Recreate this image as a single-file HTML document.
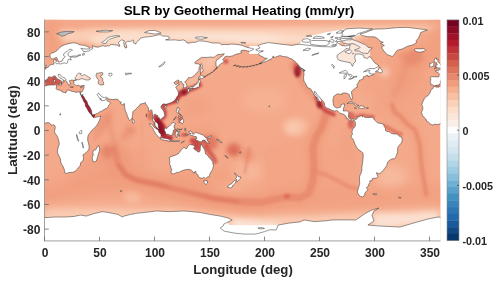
<!DOCTYPE html>
<html><head><meta charset="utf-8"><style>
html,body{margin:0;padding:0;background:#fff;}
svg{display:block;will-change:transform;}
text{font-family:"Liberation Sans",sans-serif;font-weight:bold;}
.tk{font-size:12px;fill:#262626;}
.cb{font-size:10.8px;fill:#262626;}
.lab{font-size:13.2px;fill:#262626;}
.ttl{font-size:13.45px;fill:#000;}
.ylab{font-size:13.6px;fill:#262626;}
</style></head><body>
<svg width="500" height="282" viewBox="0 0 500 282">
<defs>
<clipPath id="pc"><rect x="44.5" y="19.6" width="396" height="221.6"/></clipPath>
<filter id="b1" filterUnits="userSpaceOnUse" x="0" y="0" width="500" height="282"><feGaussianBlur stdDeviation="1.2"/></filter>
<filter id="b2" filterUnits="userSpaceOnUse" x="0" y="0" width="500" height="282"><feGaussianBlur stdDeviation="2.5"/></filter>
<filter id="b4" filterUnits="userSpaceOnUse" x="0" y="0" width="500" height="282"><feGaussianBlur stdDeviation="5"/></filter>
</defs>
<g clip-path="url(#pc)">
<rect x="44.5" y="19.6" width="396" height="221.6" fill="#f4a98a"/>
<polygon points="61.0,41.7 110.5,44.2 176.5,41.7 242.5,44.2 308.5,44.2 352.5,41.7 374.5,31.9 440.5,29.4 440.5,25.7 374.5,25.7 264.5,26.9 154.5,26.9 88.5,28.2 61.0,33.1" fill="#fbd0b8" fill-opacity="0.90" filter="url(#b2)"/>
<polygon points="99.5,40.5 176.5,40.5 231.5,43.0 264.5,45.4 303.0,43.0 319.5,36.8 264.5,33.1 187.5,31.9 110.5,33.1" fill="#fcdecb" fill-opacity="0.90" filter="url(#b2)"/>
<polygon points="110.5,38.0 165.5,36.8 220.5,39.3 259.0,41.7 286.5,40.5 264.5,35.6 187.5,34.3" fill="#fbe6da" fill-opacity="0.80" filter="url(#b2)"/>
<polygon points="94.0,44.2 121.5,46.7 154.5,41.7 154.5,33.1 110.5,31.9 88.5,36.8" fill="#fcdecb" fill-opacity="0.85" filter="url(#b2)"/>
<polygon points="44.5,204.5 110.5,205.7 176.5,208.2 242.5,213.1 308.5,213.1 363.5,208.2 440.5,204.5 440.5,229.1 44.5,229.1" fill="#f8bfa3" fill-opacity="0.90" filter="url(#b4)"/>
<polygon points="44.5,209.4 110.5,209.4 176.5,210.6 242.5,216.8 308.5,216.8 363.5,211.9 440.5,209.4 440.5,229.1 44.5,229.1" fill="#fbd0b8" fill-opacity="0.70" filter="url(#b2)"/>
<polygon points="233.7,219.3 264.5,221.7 281.0,223.0 275.5,229.1 231.5,229.1" fill="#fbe6da" fill-opacity="0.95" filter="url(#b2)"/>
<polygon points="374.5,213.1 407.5,214.3 435.0,211.9 440.5,219.3 374.5,229.1" fill="#fbe6da" fill-opacity="0.80" filter="url(#b2)"/>
<polygon points="336.0,47.9 356.9,47.9 356.9,68.8 336.0,68.8" fill="#fbe6da" fill-opacity="1.00"/>
<polygon points="74.2,72.5 90.7,72.5 90.7,80.6 74.2,80.6" fill="#fbe6da" fill-opacity="0.95"/>
<polygon points="77.5,79.9 90.7,79.9 90.7,77.5 77.5,77.5" fill="#fbd0b8" fill-opacity="0.80" filter="url(#b1)"/>
<polygon points="344.8,44.2 361.3,44.2 370.1,51.6 370.1,59.0 363.5,59.6 352.5,56.5 344.8,51.6" fill="#fbe6da" fill-opacity="1.00"/>
<polygon points="194.1,62.7 200.7,57.8 211.7,56.5 220.5,55.3 217.2,60.2 216.1,66.4 211.7,71.3 205.1,75.0 201.8,68.8 198.5,63.9" fill="#f8bfa3" fill-opacity="0.90" filter="url(#b2)"/>
<polygon points="202.9,59.0 211.7,57.1 218.3,55.9 215.0,60.2 207.3,61.5" fill="#fbd0b8" fill-opacity="0.70" filter="url(#b2)"/>
<polygon points="185.3,86.1 187.5,78.7 193.0,76.2 198.5,72.5 199.6,78.7 196.3,83.6 190.8,86.7" fill="#f8bfa3" fill-opacity="0.80" filter="url(#b2)"/>
<polygon points="175.4,87.3 177.6,81.2 183.1,82.4 183.1,87.3 178.7,91.0" fill="#f8bfa3" fill-opacity="0.60" filter="url(#b1)"/>
<ellipse cx="295.3" cy="126.8" rx="12.1" ry="9.8" fill="#f8bfa3" fill-opacity="0.90" transform="rotate(0 295.3 126.8)" filter="url(#b2)"/>
<ellipse cx="293.1" cy="128.0" rx="6.6" ry="4.9" fill="#fbd0b8" fill-opacity="0.60" transform="rotate(0 293.1 128.0)" filter="url(#b2)"/>
<ellipse cx="248.0" cy="171.2" rx="15.4" ry="9.8" fill="#f8bfa3" fill-opacity="0.60" transform="rotate(0 248.0 171.2)" filter="url(#b4)"/>
<ellipse cx="231.5" cy="192.2" rx="15.4" ry="7.4" fill="#f8bfa3" fill-opacity="0.60" transform="rotate(0 231.5 192.2)" filter="url(#b4)"/>
<ellipse cx="391.0" cy="177.4" rx="15.4" ry="12.3" fill="#f8bfa3" fill-opacity="0.75" transform="rotate(0 391.0 177.4)" filter="url(#b4)"/>
<ellipse cx="384.4" cy="72.5" rx="5.5" ry="4.9" fill="#fcdecb" fill-opacity="0.90" transform="rotate(0 384.4 72.5)" filter="url(#b2)"/>
<ellipse cx="132.5" cy="195.8" rx="8.8" ry="7.4" fill="#f8bfa3" fill-opacity="0.80" transform="rotate(0 132.5 195.8)" filter="url(#b2)"/>
<ellipse cx="160.0" cy="161.3" rx="13.2" ry="12.3" fill="#f8bfa3" fill-opacity="0.50" transform="rotate(0 160.0 161.3)" filter="url(#b4)"/>
<ellipse cx="264.5" cy="99.7" rx="22.0" ry="12.3" fill="#f8bfa3" fill-opacity="0.35" transform="rotate(0 264.5 99.7)" filter="url(#b4)"/>
<ellipse cx="363.5" cy="99.7" rx="11.0" ry="9.8" fill="#f8bfa3" fill-opacity="0.40" transform="rotate(0 363.5 99.7)" filter="url(#b4)"/>
<polyline points="39.0,194.6 55.5,192.2 72.0,188.5 94.0,184.8 110.5,179.8 127.0,177.4 143.5,182.3 165.5,187.2 187.5,192.2 209.5,198.3 237.0,202.0 264.5,203.2 292.0,199.5 319.5,199.5 347.0,200.8 363.5,200.8 380.0,199.5 402.0,197.1 424.0,195.8 446.0,194.6" fill="none" stroke="#f09d7c" stroke-opacity="0.55" stroke-width="22.0" stroke-linecap="round" stroke-linejoin="round" filter="url(#b4)"/>
<polygon points="66.5,179.8 110.5,167.5 121.5,155.2 110.5,142.8 88.5,149.0 77.5,167.5" fill="#f09d7c" fill-opacity="0.25" filter="url(#b4)"/>
<polygon points="88.5,149.0 165.5,149.0 209.5,173.7 209.5,194.6 110.5,192.2 66.5,186.0 77.5,167.5" fill="#f09d7c" fill-opacity="0.45" filter="url(#b4)"/>
<polygon points="105.0,142.8 127.0,149.0 132.5,173.7 116.0,179.8 101.7,161.3" fill="#e7886c" fill-opacity="0.35" filter="url(#b4)"/>
<polygon points="374.5,81.2 418.5,75.0 429.5,56.5 396.5,54.1 369.0,75.0" fill="#f09d7c" fill-opacity="0.35" filter="url(#b4)"/>
<polygon points="264.5,149.0 308.5,136.7 358.0,155.2 358.0,192.2 308.5,202.0 264.5,198.3" fill="#f09d7c" fill-opacity="0.35" filter="url(#b4)"/>
<polygon points="358.0,87.3 374.5,78.7 424.0,71.3 431.7,81.2 424.0,112.0 396.5,120.6 374.5,112.0 358.0,99.7" fill="#f09d7c" fill-opacity="0.40" filter="url(#b4)"/>
<polygon points="332.7,105.8 347.0,108.3 358.0,103.4 352.5,96.0 336.0,96.0" fill="#f09d7c" fill-opacity="0.40" filter="url(#b2)"/>
<polygon points="407.5,54.1 429.5,41.7 429.5,31.9 435.0,19.5 446.0,19.5 455.9,19.5 451.5,31.9 457.0,39.3 451.5,51.6 440.5,61.5 418.5,68.8 402.0,62.7" fill="#f09d7c" fill-opacity="0.70" filter="url(#b4)"/>
<ellipse cx="66.5" cy="34.3" rx="11.0" ry="4.9" fill="#fbd0b8" fill-opacity="0.70" transform="rotate(0 66.5 34.3)" filter="url(#b2)"/>
<polygon points="44.5,19.5 59.9,19.5 55.5,31.9 61.0,39.3 55.5,51.6 44.5,61.5" fill="#f09d7c" fill-opacity="0.80" filter="url(#b4)"/>
<polygon points="396.5,54.1 413.0,50.4 424.0,54.1 416.3,62.7 405.3,66.4" fill="#e7886c" fill-opacity="0.60" filter="url(#b2)"/>
<polyline points="392.1,104.6 394.3,112.0 399.8,115.7 407.5,124.3 415.2,129.9 419.6,144.1 421.8,168.7 424.6,184.8 426.2,194.6" fill="none" stroke="#f09d7c" stroke-opacity="0.60" stroke-width="10.0" stroke-linecap="round" stroke-linejoin="round" filter="url(#b2)"/>
<polyline points="392.1,104.6 394.3,112.0 399.8,115.7 407.5,124.3 415.2,129.9 419.6,144.1 421.8,168.7 424.6,184.8 426.2,194.6" fill="none" stroke="#e7886c" stroke-opacity="0.80" stroke-width="4.0" stroke-linecap="round" stroke-linejoin="round" filter="url(#b1)"/>
<polygon points="392.1,81.2 398.7,62.7 407.5,51.6 420.7,49.1 427.3,56.5 424.0,68.8 416.3,83.6 405.3,96.0 394.3,99.7" fill="#f09d7c" fill-opacity="0.75" filter="url(#b4)"/>
<polygon points="403.1,61.5 409.7,51.6 420.7,50.4 422.9,59.0 414.1,66.4" fill="#e7886c" fill-opacity="0.70" filter="url(#b2)"/>
<polyline points="413.0,54.1 407.5,62.7 403.1,75.0 398.7,84.9 394.3,94.7" fill="none" stroke="#e7886c" stroke-opacity="0.35" stroke-width="6.0" stroke-linecap="round" stroke-linejoin="round" filter="url(#b2)"/>
<polyline points="113.8,149.0 118.8,165.0 125.9,174.9 136.9,180.3 160.0,185.0 178.7,189.7 197.4,194.2 215.0,198.8 238.1,201.4 260.1,202.6 284.3,197.1 299.7,197.8 308.5,193.4 312.9,181.1 314.0,166.3 312.9,147.8 316.2,136.7 320.6,129.9 323.9,120.6 326.1,114.5" fill="none" stroke="#f09d7c" stroke-opacity="0.80" stroke-width="16.0" stroke-linecap="round" stroke-linejoin="round" filter="url(#b2)"/>
<polyline points="113.8,149.0 118.8,165.0 125.9,174.9 136.9,180.3 160.0,185.0 178.7,189.7 197.4,194.2 215.0,198.8 238.1,201.4 260.1,202.6 284.3,197.1 299.7,197.8 308.5,193.4 312.9,181.1 314.0,166.3 312.9,147.8 316.2,136.7 320.6,129.9 323.9,120.6 326.1,114.5" fill="none" stroke="#e7886c" stroke-opacity="0.85" stroke-width="7.0" stroke-linecap="round" stroke-linejoin="round" filter="url(#b1)"/>
<polyline points="118.8,165.0 125.9,174.9 136.9,180.3 160.0,185.0 178.7,189.7 197.4,194.2 215.0,198.8 238.1,201.4" fill="none" stroke="#de735b" stroke-opacity="0.60" stroke-width="3.0" stroke-linecap="round" stroke-linejoin="round" filter="url(#b1)"/>
<polyline points="314.0,171.2 326.1,174.9 338.2,181.1 350.3,187.2 355.8,188.5" fill="none" stroke="#e7886c" stroke-opacity="0.60" stroke-width="5.0" stroke-linecap="round" stroke-linejoin="round" filter="url(#b1)"/>
<ellipse cx="287.1" cy="196.3" rx="3.3" ry="2.5" fill="#d55e4c" fill-opacity="0.60" transform="rotate(0 287.1 196.3)" filter="url(#b1)"/>
<polyline points="107.2,115.7 110.5,130.5 114.9,142.8 117.1,152.7" fill="none" stroke="#e7886c" stroke-opacity="0.55" stroke-width="4.0" stroke-linecap="round" stroke-linejoin="round" filter="url(#b2)"/>
<polyline points="105.0,171.2 83.0,184.8 61.0,192.2 44.5,195.8" fill="none" stroke="#f09d7c" stroke-opacity="0.60" stroke-width="5.0" stroke-linecap="round" stroke-linejoin="round" filter="url(#b2)"/>
<polyline points="142.4,120.6 142.4,167.5" fill="none" stroke="#f09d7c" stroke-opacity="0.45" stroke-width="2.0" stroke-linecap="round" stroke-linejoin="round" filter="url(#b1)"/>
<polygon points="171.0,177.4 209.5,182.3 209.5,192.2 171.0,189.7" fill="#f09d7c" fill-opacity="0.50" filter="url(#b4)"/>
<polygon points="94.0,130.5 101.7,115.7 110.5,108.3 112.7,118.2 105.0,130.5 94.0,142.8" fill="#e7886c" fill-opacity="0.50" filter="url(#b2)"/>
<ellipse cx="107.2" cy="151.5" rx="5.5" ry="6.2" fill="#de735b" fill-opacity="0.60" transform="rotate(0 107.2 151.5)" filter="url(#b2)"/>
<polygon points="182.0,130.5 209.5,124.3 220.5,136.7 209.5,155.2 187.5,149.0" fill="#f09d7c" fill-opacity="0.60" filter="url(#b4)"/>
<ellipse cx="209.5" cy="142.8" rx="8.8" ry="7.4" fill="#d55e4c" fill-opacity="0.60" transform="rotate(0 209.5 142.8)" filter="url(#b2)"/>
<ellipse cx="233.7" cy="149.0" rx="6.6" ry="6.2" fill="#d55e4c" fill-opacity="0.60" transform="rotate(0 233.7 149.0)" filter="url(#b2)"/>
<ellipse cx="248.0" cy="155.2" rx="5.5" ry="7.4" fill="#e7886c" fill-opacity="0.60" transform="rotate(0 248.0 155.2)" filter="url(#b2)"/>
<polygon points="187.5,118.2 209.5,112.0 209.5,99.7 193.0,93.5 182.0,105.8" fill="#f09d7c" fill-opacity="0.50" filter="url(#b4)"/>
<polyline points="299.7,62.7 297.5,71.3 301.9,81.2 308.5,89.8 315.1,97.2 321.7,105.8" fill="none" stroke="#e7886c" stroke-opacity="0.60" stroke-width="6.0" stroke-linecap="round" stroke-linejoin="round" filter="url(#b2)"/>
<polyline points="206.2,146.5 208.4,150.8 211.2,154.5 213.9,158.2 215.0,161.3" fill="none" stroke="#ca4842" stroke-opacity="0.70" stroke-width="5.0" stroke-linecap="round" stroke-linejoin="round" filter="url(#b1)"/>
<polyline points="249.1,147.8 248.0,155.2 246.4,163.8 244.7,172.4" fill="none" stroke="#e7886c" stroke-opacity="0.60" stroke-width="3.0" stroke-linecap="round" stroke-linejoin="round" filter="url(#b1)"/>
<polygon points="209.5,165.0 229.3,167.5 233.7,186.0 209.5,186.0" fill="#f09d7c" fill-opacity="0.45" filter="url(#b4)"/>
<ellipse cx="233.7" cy="151.5" rx="6.6" ry="4.9" fill="#d55e4c" fill-opacity="0.50" transform="rotate(0 233.7 151.5)" filter="url(#b2)"/>
<ellipse cx="350.9" cy="124.3" rx="3.3" ry="4.9" fill="#ca4842" fill-opacity="0.70" transform="rotate(0 350.9 124.3)" filter="url(#b1)"/>
<polyline points="355.8,116.9 361.3,115.1 366.8,116.0 373.4,116.7" fill="none" stroke="#ca4842" stroke-opacity="0.60" stroke-width="3.5" stroke-linecap="round" stroke-linejoin="round" filter="url(#b1)"/>
<polyline points="383.3,125.6 387.7,127.4 392.1,129.9 396.5,132.3 400.9,134.2" fill="none" stroke="#d55e4c" stroke-opacity="0.60" stroke-width="4.0" stroke-linecap="round" stroke-linejoin="round" filter="url(#b1)"/>
<polygon points="341.5,124.3 352.5,130.5 354.7,142.8 358.0,155.2 350.3,161.3 339.3,149.0" fill="#f09d7c" fill-opacity="0.50" filter="url(#b4)"/>
<ellipse cx="130.3" cy="130.5" rx="5.5" ry="4.9" fill="#de735b" fill-opacity="0.45" transform="rotate(0 130.3 130.5)" filter="url(#b2)"/>
<ellipse cx="124.8" cy="136.7" rx="3.3" ry="3.7" fill="#de735b" fill-opacity="0.40" transform="rotate(0 124.8 136.7)" filter="url(#b2)"/>
<polygon points="154.5,113.9 158.9,116.9 161.1,120.0 164.4,124.3 166.6,128.0 165.5,133.0 168.8,135.4 172.1,135.4 173.2,139.1 169.9,140.4 163.3,139.1 161.1,136.7 157.8,133.0 155.6,128.0 153.9,121.9 153.9,115.7" fill="#b41c2d" fill-opacity="0.90" filter="url(#b1)"/>
<polygon points="156.7,118.2 160.0,120.6 162.2,124.3 163.3,129.3 165.5,134.2 161.1,135.4 158.9,131.7 156.7,126.8 155.6,121.9" fill="#890b24" fill-opacity="0.85" filter="url(#b1)"/>
<polyline points="162.2,105.2 163.9,108.3 165.3,112.0 164.9,115.7 162.8,118.8" fill="none" stroke="#bf3237" stroke-opacity="0.80" stroke-width="3.5" stroke-linecap="round" stroke-linejoin="round" filter="url(#b1)"/>
<polyline points="163.3,104.0 166.6,104.0 169.9,103.0 173.2,101.5 176.0,99.1 178.2,95.4 179.8,92.9" fill="none" stroke="#bf3237" stroke-opacity="0.80" stroke-width="4.0" stroke-linecap="round" stroke-linejoin="round" filter="url(#b1)"/>
<ellipse cx="150.7" cy="115.7" rx="3.3" ry="4.9" fill="#d55e4c" fill-opacity="0.70" transform="rotate(0 150.7 115.7)" filter="url(#b1)"/>
<polygon points="173.8,128.0 176.0,129.3 176.0,135.4 173.8,135.4" fill="#bf3237" fill-opacity="0.70" filter="url(#b1)"/>
<ellipse cx="184.2" cy="134.8" rx="3.3" ry="1.8" fill="#bf3237" fill-opacity="0.70" transform="rotate(0 184.2 134.8)" filter="url(#b1)"/>
<polygon points="190.8,137.9 196.3,138.5 200.7,141.6 200.2,151.5 194.1,150.2 193.0,145.3 189.7,141.6" fill="#bf3237" fill-opacity="0.80" filter="url(#b1)"/>
<polygon points="201.8,140.4 205.1,141.0 207.3,143.4 202.9,144.1 201.2,142.8" fill="#ca4842" fill-opacity="0.70" filter="url(#b1)"/>
<polygon points="177.6,115.7 180.9,116.9 183.1,120.6 179.8,123.1 177.6,119.4" fill="#ca4842" fill-opacity="0.60" filter="url(#b1)"/>
<polyline points="174.3,100.9 178.7,96.0 183.1,92.3 188.6,89.8 195.2,87.3 199.6,84.9" fill="none" stroke="#bf3237" stroke-opacity="0.80" stroke-width="5.0" stroke-linecap="round" stroke-linejoin="round" filter="url(#b1)"/>
<ellipse cx="184.2" cy="92.3" rx="3.3" ry="3.1" fill="#890b24" fill-opacity="0.80" transform="rotate(0 184.2 92.3)" filter="url(#b1)"/>
<polygon points="44.5,86.1 44.5,78.7 50.0,76.9 55.5,76.2 62.1,81.2 61.0,84.9 55.5,84.9 50.0,85.5" fill="#ca4842" fill-opacity="0.85" filter="url(#b1)"/>
<polygon points="433.9,86.7 433.9,84.9 440.5,78.7 440.5,86.1" fill="#ca4842" fill-opacity="0.85" filter="url(#b1)"/>
<polyline points="80.8,95.4 84.1,99.7 86.8,104.6 89.1,108.9 91.2,113.2 92.3,115.1" fill="none" stroke="#a01228" stroke-opacity="0.90" stroke-width="5.5" stroke-linecap="round" stroke-linejoin="round"/>
<ellipse cx="297.5" cy="71.3" rx="3.3" ry="6.2" fill="#890b24" fill-opacity="0.85" transform="rotate(0 297.5 71.3)" filter="url(#b1)"/>
<ellipse cx="296.4" cy="66.4" rx="4.4" ry="4.9" fill="#bf3237" fill-opacity="0.50" transform="rotate(0 296.4 66.4)" filter="url(#b2)"/>
<polyline points="316.2,97.2 319.5,104.6 323.9,109.5 328.3,112.0 333.8,114.5" fill="none" stroke="#bf3237" stroke-opacity="0.75" stroke-width="4.0" stroke-linecap="round" stroke-linejoin="round" filter="url(#b1)"/>
<ellipse cx="319.5" cy="104.6" rx="2.8" ry="3.7" fill="#890b24" fill-opacity="0.70" transform="rotate(0 319.5 104.6)" filter="url(#b1)"/>
<ellipse cx="350.3" cy="115.7" rx="4.4" ry="3.7" fill="#bf3237" fill-opacity="0.50" transform="rotate(0 350.3 115.7)" filter="url(#b1)"/>
<ellipse cx="226.0" cy="61.5" rx="2.2" ry="2.5" fill="#bf3237" fill-opacity="0.70" transform="rotate(0 226.0 61.5)" filter="url(#b1)"/>
<ellipse cx="99.5" cy="74.4" rx="3.3" ry="1.8" fill="#bf3237" fill-opacity="0.60" transform="rotate(0 99.5 74.4)" filter="url(#b1)"/>
<g fill="#fff" stroke="none">
<path d="M38.34,86.11 L37.57,85.50 L36.36,84.63 L34.71,84.88 L34.82,82.78 L34.05,81.92 L34.71,80.56 L34.82,78.71 L34.27,77.48 L35.70,76.62 L38.12,76.74 L40.32,76.93 L42.52,76.99 L43.18,75.51 L43.18,73.78 L42.08,72.43 L39.55,71.44 L39.33,70.82 L41.20,70.33 L42.74,70.58 L43.07,69.34 L44.72,69.59 L46.15,68.73 L46.26,67.74 L48.02,67.25 L48.90,66.51 L49.67,65.27 L50.77,64.66 L52.20,64.53 L53.85,64.16 L54.07,62.68 L53.41,61.45 L53.74,60.22 L56.05,59.36 L55.83,60.84 L56.49,61.08 L55.50,62.68 L56.60,63.92 L58.80,63.55 L60.45,64.04 L62.65,63.30 L64.85,62.93 L66.39,63.42 L67.71,62.68 L67.71,60.96 L68.26,59.60 L69.36,59.36 L71.34,59.97 L70.35,58.37 L70.35,57.51 L72.55,57.01 L75.30,57.14 L77.39,56.64 L76.18,55.90 L73.65,56.03 L69.80,56.64 L68.15,55.53 L67.93,53.44 L69.25,52.20 L71.45,50.60 L72.44,50.11 L71.45,49.37 L69.25,49.37 L67.93,50.85 L65.95,52.08 L63.97,53.44 L63.42,54.92 L63.75,55.78 L65.18,56.52 L64.52,57.38 L62.76,59.11 L62.43,60.71 L60.45,61.45 L58.58,62.19 L58.36,61.21 L57.59,59.36 L56.82,57.75 L56.05,57.01 L55.50,57.75 L53.30,58.86 L51.65,58.86 L50.66,57.75 L50.00,56.15 L50.00,54.30 L51.32,53.31 L53.85,52.45 L55.50,51.59 L57.04,50.60 L58.25,49.12 L59.90,47.52 L61.55,46.29 L63.20,45.42 L65.40,44.44 L67.60,43.94 L70.90,43.20 L72.88,42.83 L75.30,42.96 L78.05,43.82 L78.60,44.44 L80.80,45.05 L84.10,45.30 L87.40,46.53 L89.60,47.64 L89.82,48.88 L86.85,49.00 L83.00,48.75 L80.80,48.14 L82.45,49.99 L83.00,51.09 L85.20,51.71 L86.30,51.34 L89.05,50.97 L90.70,49.74 L92.35,48.88 L92.90,48.14 L92.68,46.66 L92.13,45.92 L94.00,46.04 L95.10,46.90 L97.85,47.15 L101.70,46.04 L103.35,45.67 L104.45,46.29 L107.20,46.04 L109.40,45.79 L111.05,44.44 L113.80,44.68 L116.00,45.05 L118.20,45.18 L118.75,46.29 L119.85,46.29 L119.30,44.19 L118.20,42.96 L119.85,41.11 L121.39,39.87 L124.25,40.74 L123.70,42.71 L124.25,46.04 L125.35,48.14 L127.00,47.27 L126.45,45.42 L125.68,43.57 L125.35,42.59 L127.55,41.35 L130.85,41.35 L133.05,39.87 L133.60,40.74 L133.05,42.34 L135.80,44.19 L136.35,42.34 L137.45,41.35 L139.65,39.50 L140.20,38.27 L143.50,37.29 L149.00,36.79 L152.30,36.18 L155.60,35.56 L158.90,34.70 L161.65,35.19 L162.75,36.18 L166.60,36.05 L169.35,37.04 L168.80,39.26 L165.50,39.87 L169.35,40.12 L174.30,39.87 L179.80,40.49 L183.10,39.87 L185.85,41.11 L186.95,42.96 L189.15,43.20 L191.90,42.34 L195.20,42.34 L197.95,41.23 L199.60,40.86 L205.10,41.35 L209.50,42.22 L212.25,43.08 L217.20,42.96 L219.95,43.33 L221.38,44.68 L224.90,44.56 L228.75,44.56 L231.50,44.07 L234.80,44.31 L238.65,44.68 L242.50,45.55 L245.80,46.90 L249.10,47.89 L251.30,48.26 L253.83,49.00 L252.40,49.99 L249.87,51.22 L247.23,50.85 L243.60,50.11 L240.85,50.85 L241.40,52.82 L239.20,53.44 L235.90,54.30 L232.60,55.90 L229.30,56.52 L227.10,56.15 L224.90,56.77 L223.80,58.37 L222.70,59.60 L224.13,61.45 L222.70,62.68 L221.05,63.67 L219.07,65.27 L216.87,67.62 L216.10,65.77 L215.88,62.07 L216.98,59.60 L218.85,58.74 L221.05,56.77 L222.70,55.90 L224.35,53.68 L220.50,54.42 L217.75,54.55 L215.55,56.15 L213.90,57.38 L210.60,57.01 L207.30,57.38 L204.00,57.38 L201.80,57.38 L200.15,58.37 L198.50,59.48 L196.30,60.96 L194.65,62.81 L195.75,63.92 L197.95,63.67 L199.60,64.53 L200.04,65.77 L199.05,67.62 L198.83,70.70 L196.85,72.80 L194.65,75.26 L192.45,76.86 L190.80,77.73 L189.15,77.48 L188.05,78.10 L187.17,79.95 L185.30,81.18 L184.75,82.17 L185.85,83.28 L186.84,85.50 L186.73,86.98 L185.30,87.47 L183.65,88.08 L183.43,86.73 L183.98,85.13 L183.43,84.02 L182.22,83.89 L182.00,82.41 L181.23,81.30 L179.25,82.04 L177.82,82.66 L178.26,81.80 L179.03,80.56 L177.60,80.07 L175.95,81.30 L174.30,82.17 L173.86,82.91 L175.18,84.26 L175.95,84.63 L177.38,83.89 L179.36,84.39 L177.60,85.50 L176.06,86.61 L175.73,87.71 L176.94,88.82 L177.60,90.80 L178.59,91.91 L178.15,92.65 L178.70,93.76 L178.15,95.36 L176.94,96.84 L176.06,98.44 L175.18,99.80 L173.86,101.03 L172.10,102.26 L170.12,103.00 L169.35,103.13 L167.70,103.74 L166.05,104.36 L165.72,105.47 L165.17,103.99 L163.85,103.87 L162.75,104.24 L161.76,105.35 L160.88,106.70 L161.10,107.69 L162.20,109.17 L163.63,111.02 L164.40,113.24 L164.73,115.09 L164.40,116.57 L162.86,117.55 L161.87,118.42 L160.55,119.40 L159.78,119.90 L159.78,118.42 L159.34,117.68 L157.80,116.94 L157.58,115.33 L155.49,114.84 L154.94,113.85 L154.39,114.47 L153.62,117.55 L153.95,119.16 L154.83,120.39 L155.16,121.75 L156.15,122.12 L157.03,122.86 L158.02,123.97 L158.35,125.57 L158.24,127.17 L159.23,128.77 L158.35,128.90 L157.25,128.03 L155.93,126.92 L155.05,125.32 L154.83,123.60 L154.50,122.36 L152.85,120.64 L152.63,119.40 L152.85,117.55 L152.96,115.46 L152.30,113.24 L151.97,110.40 L151.42,109.79 L150.32,110.16 L149.33,111.02 L148.23,110.77 L148.56,108.92 L148.12,107.32 L147.35,106.46 L146.58,105.22 L145.70,103.99 L145.48,102.63 L144.16,103.00 L142.95,103.62 L141.85,103.74 L140.20,104.11 L139.98,105.47 L138.22,106.46 L136.90,108.06 L135.03,110.03 L133.82,110.90 L132.72,111.76 L132.83,114.22 L132.28,116.20 L132.28,117.80 L131.40,119.03 L130.52,119.65 L129.75,120.51 L128.76,119.53 L128.10,117.55 L127.33,115.70 L126.56,113.24 L125.35,110.77 L124.80,108.31 L124.58,106.46 L124.58,104.61 L124.14,103.37 L123.92,104.24 L122.60,104.85 L121.50,104.36 L120.40,103.00 L121.50,102.39 L120.07,101.89 L119.52,101.15 L118.53,100.54 L117.87,99.31 L114.90,99.31 L112.15,99.55 L109.95,99.06 L107.75,98.81 L107.20,97.46 L106.32,97.09 L104.45,97.70 L102.80,97.21 L100.93,95.98 L99.83,94.37 L98.73,93.39 L97.85,93.51 L97.19,94.37 L97.96,95.98 L98.95,97.21 L99.61,98.07 L100.38,99.92 L100.82,98.32 L101.26,99.43 L101.26,100.54 L102.80,100.66 L104.45,100.54 L105.55,99.31 L106.21,98.32 L106.54,99.31 L106.54,100.29 L107.75,101.15 L109.18,101.52 L110.28,102.88 L109.73,104.24 L108.85,105.35 L108.08,106.09 L107.97,107.20 L106.76,108.31 L105.44,108.80 L103.90,109.54 L101.92,111.02 L99.50,112.00 L97.85,113.24 L95.65,114.10 L94.00,114.72 L92.35,114.84 L92.02,113.85 L91.58,112.25 L91.36,110.16 L90.48,108.55 L89.38,106.46 L88.06,104.85 L87.51,103.37 L86.85,101.28 L85.64,99.92 L84.76,98.44 L83.66,96.47 L82.78,95.48 L82.89,94.13 L82.23,95.98 L81.35,95.36 L80.36,93.63 L80.03,92.03 L82.12,91.91 L82.89,90.43 L83.33,89.19 L83.99,87.71 L83.99,86.24 L84.32,85.37 L83.55,85.37 L81.90,85.74 L80.25,85.99 L78.16,85.13 L76.73,85.87 L75.30,85.13 L74.53,84.26 L73.65,83.28 L73.98,81.80 L73.32,81.18 L74.75,80.56 L76.40,80.07 L76.62,79.70 L78.60,79.82 L80.80,78.84 L83.00,78.71 L84.65,79.58 L86.63,80.07 L88.83,79.95 L90.26,79.21 L90.26,77.97 L88.50,76.99 L86.63,75.75 L85.20,75.14 L84.76,74.52 L83.55,74.89 L82.45,75.63 L81.35,75.51 L80.36,74.52 L81.46,73.78 L79.70,73.17 L78.38,73.17 L77.28,74.40 L76.40,75.63 L75.96,76.62 L75.19,77.48 L75.19,78.71 L75.74,79.45 L76.40,79.82 L75.30,79.95 L73.87,80.44 L73.10,80.19 L71.78,80.07 L70.57,80.32 L69.80,80.81 L69.36,80.56 L69.58,81.67 L70.02,82.41 L70.90,83.40 L70.02,83.77 L69.80,84.51 L69.47,85.50 L69.03,85.50 L68.37,85.13 L68.26,84.26 L67.82,83.65 L67.71,83.03 L67.27,82.41 L66.61,81.67 L65.84,80.81 L65.84,79.33 L64.96,78.22 L63.75,77.48 L62.10,76.86 L61.22,76.00 L60.45,74.77 L59.46,74.28 L58.14,74.52 L58.03,75.63 L59.35,76.74 L60.45,78.22 L62.10,78.84 L62.32,79.21 L63.42,79.95 L64.85,81.06 L64.19,81.30 L63.20,80.56 L62.76,81.55 L63.31,82.41 L62.65,83.15 L61.77,83.77 L61.88,82.78 L62.10,81.80 L61.33,81.06 L60.56,80.44 L59.90,80.07 L58.80,79.58 L57.92,78.96 L56.71,78.22 L56.05,77.23 L55.50,76.25 L54.18,75.75 L52.86,76.49 L51.65,77.36 L50.00,76.99 L48.90,76.86 L47.91,77.48 L48.02,78.71 L46.92,79.45 L45.60,79.95 L45.05,80.56 L44.17,81.80 L44.72,82.66 L43.95,83.40 L43.62,84.14 L42.52,84.88 L42.08,85.25 L40.65,85.25 L39.55,85.37 Z"/><path d="M434.34,86.11 L433.57,85.50 L432.36,84.63 L430.71,84.88 L430.82,82.78 L430.05,81.92 L430.71,80.56 L430.82,78.71 L430.27,77.48 L431.70,76.62 L434.12,76.74 L436.32,76.93 L438.52,76.99 L439.18,75.51 L439.18,73.78 L438.08,72.43 L435.55,71.44 L435.33,70.82 L437.20,70.33 L438.74,70.58 L439.07,69.34 L440.72,69.59 L442.15,68.73 L442.26,67.74 L444.02,67.25 L444.90,66.51 L445.67,65.27 L446.77,64.66 L448.20,64.53 L449.85,64.16 L450.07,62.68 L449.41,61.45 L449.74,60.22 L452.05,59.36 L451.83,60.84 L452.49,61.08 L451.50,62.68 L452.60,63.92 L454.80,63.55 L456.45,64.04 L458.65,63.30 L460.85,62.93 L462.39,63.42 L463.71,62.68 L463.71,60.96 L464.26,59.60 L465.36,59.36 L467.34,59.97 L466.35,58.37 L466.35,57.51 L468.55,57.01 L471.30,57.14 L473.39,56.64 L472.18,55.90 L469.65,56.03 L465.80,56.64 L464.15,55.53 L463.93,53.44 L465.25,52.20 L467.45,50.60 L468.44,50.11 L467.45,49.37 L465.25,49.37 L463.93,50.85 L461.95,52.08 L459.97,53.44 L459.42,54.92 L459.75,55.78 L461.18,56.52 L460.52,57.38 L458.76,59.11 L458.43,60.71 L456.45,61.45 L454.58,62.19 L454.36,61.21 L453.59,59.36 L452.82,57.75 L452.05,57.01 L451.50,57.75 L449.30,58.86 L447.65,58.86 L446.66,57.75 L446.00,56.15 L446.00,54.30 L447.32,53.31 L449.85,52.45 L451.50,51.59 L453.04,50.60 L454.25,49.12 L455.90,47.52 L457.55,46.29 L459.20,45.42 L461.40,44.44 L463.60,43.94 L466.90,43.20 L468.88,42.83 L471.30,42.96 L474.05,43.82 L474.60,44.44 L476.80,45.05 L480.10,45.30 L483.40,46.53 L485.60,47.64 L485.82,48.88 L482.85,49.00 L479.00,48.75 L476.80,48.14 L478.45,49.99 L479.00,51.09 L481.20,51.71 L482.30,51.34 L485.05,50.97 L486.70,49.74 L488.35,48.88 L488.90,48.14 L488.68,46.66 L488.13,45.92 L490.00,46.04 L491.10,46.90 L493.85,47.15 L497.70,46.04 L499.35,45.67 L500.45,46.29 L503.20,46.04 L505.40,45.79 L507.05,44.44 L509.80,44.68 L512.00,45.05 L514.20,45.18 L514.75,46.29 L515.85,46.29 L515.30,44.19 L514.20,42.96 L515.85,41.11 L517.39,39.87 L520.25,40.74 L519.70,42.71 L520.25,46.04 L521.35,48.14 L523.00,47.27 L522.45,45.42 L521.68,43.57 L521.35,42.59 L523.55,41.35 L526.85,41.35 L529.05,39.87 L529.60,40.74 L529.05,42.34 L531.80,44.19 L532.35,42.34 L533.45,41.35 L535.65,39.50 L536.20,38.27 L539.50,37.29 L545.00,36.79 L548.30,36.18 L551.60,35.56 L554.90,34.70 L557.65,35.19 L558.75,36.18 L562.60,36.05 L565.35,37.04 L564.80,39.26 L561.50,39.87 L565.35,40.12 L570.30,39.87 L575.80,40.49 L579.10,39.87 L581.85,41.11 L582.95,42.96 L585.15,43.20 L587.90,42.34 L591.20,42.34 L593.95,41.23 L595.60,40.86 L601.10,41.35 L605.50,42.22 L608.25,43.08 L613.20,42.96 L615.95,43.33 L617.38,44.68 L620.90,44.56 L624.75,44.56 L627.50,44.07 L630.80,44.31 L634.65,44.68 L638.50,45.55 L641.80,46.90 L645.10,47.89 L647.30,48.26 L649.83,49.00 L648.40,49.99 L645.87,51.22 L643.23,50.85 L639.60,50.11 L636.85,50.85 L637.40,52.82 L635.20,53.44 L631.90,54.30 L628.60,55.90 L625.30,56.52 L623.10,56.15 L620.90,56.77 L619.80,58.37 L618.70,59.60 L620.13,61.45 L618.70,62.68 L617.05,63.67 L615.07,65.27 L612.87,67.62 L612.10,65.77 L611.88,62.07 L612.98,59.60 L614.85,58.74 L617.05,56.77 L618.70,55.90 L620.35,53.68 L616.50,54.42 L613.75,54.55 L611.55,56.15 L609.90,57.38 L606.60,57.01 L603.30,57.38 L600.00,57.38 L597.80,57.38 L596.15,58.37 L594.50,59.48 L592.30,60.96 L590.65,62.81 L591.75,63.92 L593.95,63.67 L595.60,64.53 L596.04,65.77 L595.05,67.62 L594.83,70.70 L592.85,72.80 L590.65,75.26 L588.45,76.86 L586.80,77.73 L585.15,77.48 L584.05,78.10 L583.17,79.95 L581.30,81.18 L580.75,82.17 L581.85,83.28 L582.84,85.50 L582.73,86.98 L581.30,87.47 L579.65,88.08 L579.43,86.73 L579.98,85.13 L579.43,84.02 L578.22,83.89 L578.00,82.41 L577.23,81.30 L575.25,82.04 L573.82,82.66 L574.26,81.80 L575.03,80.56 L573.60,80.07 L571.95,81.30 L570.30,82.17 L569.86,82.91 L571.18,84.26 L571.95,84.63 L573.38,83.89 L575.36,84.39 L573.60,85.50 L572.06,86.61 L571.73,87.71 L572.94,88.82 L573.60,90.80 L574.59,91.91 L574.15,92.65 L574.70,93.76 L574.15,95.36 L572.94,96.84 L572.06,98.44 L571.18,99.80 L569.86,101.03 L568.10,102.26 L566.12,103.00 L565.35,103.13 L563.70,103.74 L562.05,104.36 L561.72,105.47 L561.17,103.99 L559.85,103.87 L558.75,104.24 L557.76,105.35 L556.88,106.70 L557.10,107.69 L558.20,109.17 L559.63,111.02 L560.40,113.24 L560.73,115.09 L560.40,116.57 L558.86,117.55 L557.87,118.42 L556.55,119.40 L555.78,119.90 L555.78,118.42 L555.34,117.68 L553.80,116.94 L553.58,115.33 L551.49,114.84 L550.94,113.85 L550.39,114.47 L549.62,117.55 L549.95,119.16 L550.83,120.39 L551.16,121.75 L552.15,122.12 L553.03,122.86 L554.02,123.97 L554.35,125.57 L554.24,127.17 L555.23,128.77 L554.35,128.90 L553.25,128.03 L551.93,126.92 L551.05,125.32 L550.83,123.60 L550.50,122.36 L548.85,120.64 L548.63,119.40 L548.85,117.55 L548.96,115.46 L548.30,113.24 L547.97,110.40 L547.42,109.79 L546.32,110.16 L545.33,111.02 L544.23,110.77 L544.56,108.92 L544.12,107.32 L543.35,106.46 L542.58,105.22 L541.70,103.99 L541.48,102.63 L540.16,103.00 L538.95,103.62 L537.85,103.74 L536.20,104.11 L535.98,105.47 L534.22,106.46 L532.90,108.06 L531.03,110.03 L529.82,110.90 L528.72,111.76 L528.83,114.22 L528.28,116.20 L528.28,117.80 L527.40,119.03 L526.52,119.65 L525.75,120.51 L524.76,119.53 L524.10,117.55 L523.33,115.70 L522.56,113.24 L521.35,110.77 L520.80,108.31 L520.58,106.46 L520.58,104.61 L520.14,103.37 L519.92,104.24 L518.60,104.85 L517.50,104.36 L516.40,103.00 L517.50,102.39 L516.07,101.89 L515.52,101.15 L514.53,100.54 L513.87,99.31 L510.90,99.31 L508.15,99.55 L505.95,99.06 L503.75,98.81 L503.20,97.46 L502.32,97.09 L500.45,97.70 L498.80,97.21 L496.93,95.98 L495.83,94.37 L494.73,93.39 L493.85,93.51 L493.19,94.37 L493.96,95.98 L494.95,97.21 L495.61,98.07 L496.38,99.92 L496.82,98.32 L497.26,99.43 L497.26,100.54 L498.80,100.66 L500.45,100.54 L501.55,99.31 L502.21,98.32 L502.54,99.31 L502.54,100.29 L503.75,101.15 L505.18,101.52 L506.28,102.88 L505.73,104.24 L504.85,105.35 L504.08,106.09 L503.97,107.20 L502.76,108.31 L501.44,108.80 L499.90,109.54 L497.92,111.02 L495.50,112.00 L493.85,113.24 L491.65,114.10 L490.00,114.72 L488.35,114.84 L488.02,113.85 L487.58,112.25 L487.36,110.16 L486.48,108.55 L485.38,106.46 L484.06,104.85 L483.51,103.37 L482.85,101.28 L481.64,99.92 L480.76,98.44 L479.66,96.47 L478.78,95.48 L478.89,94.13 L478.23,95.98 L477.35,95.36 L476.36,93.63 L476.03,92.03 L478.12,91.91 L478.89,90.43 L479.33,89.19 L479.99,87.71 L479.99,86.24 L480.32,85.37 L479.55,85.37 L477.90,85.74 L476.25,85.99 L474.16,85.13 L472.73,85.87 L471.30,85.13 L470.53,84.26 L469.65,83.28 L469.98,81.80 L469.32,81.18 L470.75,80.56 L472.40,80.07 L472.62,79.70 L474.60,79.82 L476.80,78.84 L479.00,78.71 L480.65,79.58 L482.63,80.07 L484.83,79.95 L486.26,79.21 L486.26,77.97 L484.50,76.99 L482.63,75.75 L481.20,75.14 L480.76,74.52 L479.55,74.89 L478.45,75.63 L477.35,75.51 L476.36,74.52 L477.46,73.78 L475.70,73.17 L474.38,73.17 L473.28,74.40 L472.40,75.63 L471.96,76.62 L471.19,77.48 L471.19,78.71 L471.74,79.45 L472.40,79.82 L471.30,79.95 L469.87,80.44 L469.10,80.19 L467.78,80.07 L466.57,80.32 L465.80,80.81 L465.36,80.56 L465.58,81.67 L466.02,82.41 L466.90,83.40 L466.02,83.77 L465.80,84.51 L465.47,85.50 L465.03,85.50 L464.37,85.13 L464.26,84.26 L463.82,83.65 L463.71,83.03 L463.27,82.41 L462.61,81.67 L461.84,80.81 L461.84,79.33 L460.96,78.22 L459.75,77.48 L458.10,76.86 L457.22,76.00 L456.45,74.77 L455.46,74.28 L454.14,74.52 L454.03,75.63 L455.35,76.74 L456.45,78.22 L458.10,78.84 L458.32,79.21 L459.42,79.95 L460.85,81.06 L460.19,81.30 L459.20,80.56 L458.76,81.55 L459.31,82.41 L458.65,83.15 L457.77,83.77 L457.88,82.78 L458.10,81.80 L457.33,81.06 L456.56,80.44 L455.90,80.07 L454.80,79.58 L453.92,78.96 L452.71,78.22 L452.05,77.23 L451.50,76.25 L450.18,75.75 L448.86,76.49 L447.65,77.36 L446.00,76.99 L444.90,76.86 L443.91,77.48 L444.02,78.71 L442.92,79.45 L441.60,79.95 L441.05,80.56 L440.17,81.80 L440.72,82.66 L439.95,83.40 L439.62,84.14 L438.52,84.88 L438.08,85.25 L436.65,85.25 L435.55,85.37 Z"/><path d="M38.01,86.36 L36.91,88.58 L35.15,89.44 L33.94,93.02 L31.85,95.73 L30.20,96.59 L28.55,98.32 L27.12,101.15 L25.80,104.61 L26.57,106.46 L26.90,108.31 L26.35,110.77 L25.25,112.37 L26.02,113.85 L26.13,115.09 L27.45,116.32 L28.33,117.55 L29.87,119.03 L30.75,121.25 L32.40,122.12 L34.05,123.72 L36.25,125.07 L39.00,124.21 L42.30,124.58 L44.50,123.60 L46.15,122.86 L48.24,122.61 L50.00,123.35 L51.10,125.20 L52.75,124.95 L53.85,124.83 L54.95,125.81 L55.28,127.42 L54.84,129.88 L54.40,131.73 L55.50,133.95 L57.15,136.05 L57.92,137.90 L58.80,140.98 L59.35,144.06 L58.25,147.15 L57.48,150.23 L57.48,152.69 L58.80,155.78 L60.45,158.74 L61.00,163.17 L62.65,165.76 L63.75,168.11 L64.63,170.57 L64.74,172.67 L65.95,173.29 L66.50,173.41 L68.70,172.55 L72.00,172.42 L73.65,172.05 L75.85,170.57 L77.50,168.97 L78.60,167.24 L80.14,165.64 L80.69,162.56 L83.00,160.71 L83.55,158.24 L83.33,156.39 L82.78,154.91 L84.65,153.68 L87.40,151.46 L89.05,149.00 L89.05,145.91 L88.50,143.20 L87.84,140.98 L87.62,138.88 L87.95,136.42 L88.72,134.20 L90.15,132.72 L91.80,130.50 L94.00,128.28 L96.20,126.18 L97.85,123.72 L99.28,120.64 L100.38,117.55 L100.93,115.95 L98.95,116.57 L96.20,117.18 L93.45,117.68 L92.13,116.20 L91.58,114.96 L90.15,113.48 L88.50,111.39 L87.40,109.29 L86.85,107.94 L85.53,106.46 L85.09,103.37 L83.66,101.40 L82.78,99.06 L81.68,97.21 L80.36,93.63 L80.03,92.03 L78.60,91.66 L76.40,92.40 L74.20,91.78 L72.00,91.41 L69.80,90.43 L68.15,89.93 L66.61,90.80 L65.95,92.89 L64.30,92.52 L61.55,91.66 L61.22,90.55 L59.02,89.93 L56.82,89.56 L56.05,88.58 L56.60,86.73 L56.05,85.50 L56.60,84.76 L55.50,84.51 L53.85,85.00 L51.10,84.88 L47.80,85.13 L44.50,86.24 L42.30,87.22 L40.10,87.10 L38.67,86.24 Z"/><path d="M434.01,86.36 L432.91,88.58 L431.15,89.44 L429.94,93.02 L427.85,95.73 L426.20,96.59 L424.55,98.32 L423.12,101.15 L421.80,104.61 L422.57,106.46 L422.90,108.31 L422.35,110.77 L421.25,112.37 L422.02,113.85 L422.13,115.09 L423.45,116.32 L424.33,117.55 L425.87,119.03 L426.75,121.25 L428.40,122.12 L430.05,123.72 L432.25,125.07 L435.00,124.21 L438.30,124.58 L440.50,123.60 L442.15,122.86 L444.24,122.61 L446.00,123.35 L447.10,125.20 L448.75,124.95 L449.85,124.83 L450.95,125.81 L451.28,127.42 L450.84,129.88 L450.40,131.73 L451.50,133.95 L453.15,136.05 L453.92,137.90 L454.80,140.98 L455.35,144.06 L454.25,147.15 L453.48,150.23 L453.48,152.69 L454.80,155.78 L456.45,158.74 L457.00,163.17 L458.65,165.76 L459.75,168.11 L460.63,170.57 L460.74,172.67 L461.95,173.29 L462.50,173.41 L464.70,172.55 L468.00,172.42 L469.65,172.05 L471.85,170.57 L473.50,168.97 L474.60,167.24 L476.14,165.64 L476.69,162.56 L479.00,160.71 L479.55,158.24 L479.33,156.39 L478.78,154.91 L480.65,153.68 L483.40,151.46 L485.05,149.00 L485.05,145.91 L484.50,143.20 L483.84,140.98 L483.62,138.88 L483.95,136.42 L484.72,134.20 L486.15,132.72 L487.80,130.50 L490.00,128.28 L492.20,126.18 L493.85,123.72 L495.28,120.64 L496.38,117.55 L496.93,115.95 L494.95,116.57 L492.20,117.18 L489.45,117.68 L488.13,116.20 L487.58,114.96 L486.15,113.48 L484.50,111.39 L483.40,109.29 L482.85,107.94 L481.53,106.46 L481.09,103.37 L479.66,101.40 L478.78,99.06 L477.68,97.21 L476.36,93.63 L476.03,92.03 L474.60,91.66 L472.40,92.40 L470.20,91.78 L468.00,91.41 L465.80,90.43 L464.15,89.93 L462.61,90.80 L461.95,92.89 L460.30,92.52 L457.55,91.66 L457.22,90.55 L455.02,89.93 L452.82,89.56 L452.05,88.58 L452.60,86.73 L452.05,85.50 L452.60,84.76 L451.50,84.51 L449.85,85.00 L447.10,84.88 L443.80,85.13 L440.50,86.24 L438.30,87.22 L436.10,87.10 L434.67,86.24 Z"/><path d="M255.70,49.74 L260.10,47.89 L257.90,45.67 L261.20,44.19 L268.35,42.59 L273.30,43.20 L281.00,44.19 L285.40,44.68 L292.00,45.42 L298.60,44.19 L304.10,44.81 L308.50,45.42 L314.00,46.04 L321.70,46.66 L326.10,46.66 L332.70,46.90 L336.00,46.04 L337.10,42.34 L341.50,45.42 L345.90,46.04 L350.30,44.81 L349.20,49.12 L345.90,48.51 L343.70,50.97 L340.40,52.82 L337.10,55.29 L337.10,57.75 L338.75,60.22 L343.70,61.45 L350.30,62.68 L352.50,66.38 L353.60,63.30 L355.80,61.45 L354.70,57.75 L355.25,54.05 L360.20,54.05 L363.50,55.29 L364.05,57.75 L367.90,58.37 L369.55,56.15 L372.30,59.60 L374.50,62.68 L378.90,65.77 L377.25,67.00 L374.50,68.60 L369.55,68.60 L367.35,69.47 L363.50,71.93 L369.88,70.33 L369.00,71.93 L369.55,73.41 L372.85,74.15 L374.50,73.78 L373.40,74.77 L370.65,75.51 L368.12,76.86 L367.90,75.26 L366.80,75.51 L363.50,76.74 L362.84,77.97 L363.50,78.96 L361.85,79.45 L359.10,80.44 L359.10,81.80 L358.00,82.66 L356.90,84.88 L357.45,87.10 L355.80,87.84 L353.60,89.56 L351.40,91.66 L351.95,95.36 L352.50,97.83 L352.06,99.43 L351.18,99.31 L350.30,97.46 L349.53,95.98 L349.20,94.50 L347.55,93.51 L345.90,93.02 L343.70,92.89 L342.05,93.26 L342.27,94.50 L340.95,94.37 L339.30,94.00 L337.10,93.88 L336.00,94.74 L333.80,96.22 L333.25,98.44 L332.92,100.91 L333.25,103.37 L333.58,105.22 L334.57,106.70 L336.00,107.57 L336.55,108.06 L338.75,107.57 L340.40,107.32 L341.06,105.22 L341.17,104.61 L343.70,103.99 L344.80,103.99 L344.36,105.84 L343.70,107.69 L343.37,110.16 L343.15,111.02 L344.25,111.02 L347.00,110.77 L348.87,112.00 L348.65,114.47 L348.43,116.94 L349.75,118.66 L351.40,119.65 L353.05,118.66 L354.70,119.03 L355.36,119.77 L356.90,118.79 L357.45,117.55 L359.10,116.69 L360.75,115.95 L361.85,115.21 L362.40,116.94 L363.50,116.32 L365.15,117.55 L367.90,117.43 L370.10,117.43 L372.30,117.31 L373.40,118.17 L374.50,120.02 L376.70,121.87 L377.80,123.10 L380.00,123.23 L382.20,123.72 L383.85,125.20 L384.40,126.80 L385.50,128.28 L385.50,130.50 L387.15,131.73 L388.80,131.49 L391.55,133.58 L394.30,133.95 L396.50,133.95 L398.15,135.06 L399.80,136.54 L401.78,137.28 L402.22,139.75 L402.00,141.60 L400.90,143.45 L399.25,145.30 L398.15,146.53 L397.60,149.00 L397.60,152.08 L396.50,155.16 L395.40,157.63 L394.30,158.86 L392.10,158.86 L389.90,160.09 L387.70,161.94 L387.04,164.41 L386.60,165.76 L384.95,168.11 L383.30,170.20 L381.65,172.05 L380.00,173.41 L378.35,173.41 L376.26,172.67 L377.25,174.89 L377.80,176.74 L376.70,177.97 L372.30,178.59 L372.08,180.44 L369.55,181.05 L370.32,182.29 L369.00,183.52 L368.45,185.99 L366.25,187.83 L367.90,189.44 L365.70,192.15 L364.60,193.38 L365.15,194.99 L363.50,195.85 L362.40,197.08 L360.75,196.47 L358.55,194.62 L357.45,192.15 L358.00,189.07 L359.10,185.99 L359.65,183.52 L359.65,181.67 L359.43,178.59 L359.65,176.12 L360.75,173.66 L361.74,171.19 L361.85,167.49 L362.40,163.79 L362.95,159.48 L363.28,155.16 L362.95,153.06 L361.30,151.46 L358.00,149.36 L356.57,147.15 L355.25,144.68 L353.60,140.36 L352.50,138.51 L351.18,137.28 L351.18,135.80 L352.50,134.20 L351.95,131.73 L352.50,129.88 L353.05,128.65 L353.82,128.03 L355.25,126.18 L355.47,123.72 L355.25,121.87 L354.70,121.25 L353.60,119.53 L352.50,121.25 L351.40,120.64 L349.75,120.39 L348.10,118.79 L346.23,118.17 L346.23,116.94 L344.25,114.47 L342.05,113.85 L339.85,113.24 L338.20,111.39 L336.55,110.53 L334.90,111.14 L332.70,110.53 L330.50,109.54 L328.85,108.55 L326.65,107.94 L325.00,106.46 L324.45,105.22 L324.67,103.99 L323.90,102.14 L321.70,99.67 L320.05,97.83 L318.40,95.98 L316.75,94.13 L315.65,91.91 L314.22,91.29 L314.55,93.51 L316.20,95.36 L317.85,97.83 L318.95,100.29 L320.05,101.89 L319.17,101.52 L317.30,99.92 L316.97,97.83 L315.10,96.35 L314.55,95.36 L313.23,93.14 L312.02,91.04 L311.47,89.81 L310.15,88.58 L307.84,87.84 L306.41,85.37 L305.75,83.89 L304.32,81.80 L303.77,79.95 L303.55,77.48 L304.10,73.78 L303.33,70.82 L305.20,70.95 L304.65,70.08 L302.45,68.85 L300.25,67.86 L299.70,66.38 L297.50,63.92 L296.40,62.68 L294.20,60.84 L292.00,58.99 L289.80,58.37 L287.05,56.89 L283.20,56.52 L279.90,55.53 L277.15,56.52 L275.50,57.14 L273.52,57.51 L273.30,55.90 L272.20,57.75 L271.10,59.60 L268.90,59.85 L266.15,61.45 L263.40,62.32 L261.20,63.05 L259.55,63.30 L262.30,61.70 L265.60,59.60 L267.25,58.37 L264.50,58.00 L262.30,56.52 L259.55,55.53 L258.45,53.44 L259.55,52.57 L263.40,50.97 L261.20,50.85 L258.45,50.97 Z"/><path d="M374.50,29.15 L385.50,28.78 L396.50,27.67 L407.50,27.42 L418.50,28.78 L427.30,30.01 L420.70,32.48 L419.60,35.56 L418.50,38.02 L416.30,40.49 L416.30,42.96 L413.00,44.81 L407.50,46.29 L402.00,49.12 L398.70,49.74 L396.50,50.97 L395.40,52.82 L393.20,55.90 L392.10,56.52 L389.90,55.53 L387.15,54.67 L385.50,52.82 L383.85,50.97 L382.20,48.51 L381.65,46.66 L384.40,45.42 L380.55,43.57 L383.30,42.34 L380.00,41.11 L377.80,38.64 L374.50,36.79 L367.90,36.79 L362.40,35.56 L360.20,33.96 L365.70,32.48 L370.10,30.63 Z"/><path d="M169.35,157.63 L169.90,162.56 L169.35,163.17 L170.45,165.64 L171.00,168.11 L171.77,169.96 L171.00,171.81 L171.00,172.79 L172.65,173.66 L174.30,173.66 L176.50,172.42 L178.70,172.42 L180.90,171.19 L183.10,170.33 L186.40,169.46 L189.15,169.34 L191.35,170.20 L193.00,171.81 L193.88,173.41 L194.65,171.81 L195.75,171.19 L196.08,173.04 L196.85,174.27 L197.95,174.89 L198.50,176.74 L200.15,177.85 L202.35,178.34 L203.89,177.23 L205.43,178.71 L207.30,177.11 L209.39,176.74 L209.72,174.27 L210.82,172.30 L212.25,169.96 L212.80,168.72 L213.46,165.76 L212.91,163.79 L212.80,161.57 L211.15,160.09 L210.38,158.24 L208.95,157.63 L208.07,155.78 L205.65,153.93 L205.10,151.46 L204.44,149.00 L203.45,148.01 L202.35,145.91 L201.25,143.69 L200.48,145.91 L200.26,148.38 L200.15,150.84 L199.05,152.20 L197.95,151.83 L195.75,150.23 L194.10,149.00 L193.55,148.38 L194.65,146.53 L194.98,145.54 L193.55,145.30 L190.80,144.68 L189.70,144.43 L188.05,145.91 L186.95,148.38 L185.85,148.87 L184.75,147.76 L183.10,147.76 L181.45,149.61 L180.35,151.46 L179.03,152.69 L178.15,153.93 L175.40,155.16 L172.87,155.90 L170.45,157.01 Z"/><path d="M38.23,68.85 L39.88,68.36 L41.20,67.99 L42.85,67.99 L44.50,67.86 L46.04,67.37 L45.27,67.00 L46.26,66.38 L46.37,65.52 L44.94,65.15 L44.50,64.41 L43.84,63.30 L42.96,62.68 L42.63,61.95 L41.75,61.45 L41.64,60.84 L42.52,59.60 L40.65,59.36 L40.10,58.99 L41.09,58.25 L39.00,58.25 L38.45,59.60 L38.23,60.84 L39.00,62.07 L39.22,62.81 L40.98,62.81 L40.65,63.55 L41.31,64.16 L41.20,64.78 L39.44,64.78 L39.88,65.40 L39.99,66.14 L38.78,66.63 L40.10,66.88 L41.20,67.25 L39.88,67.37 L39.00,68.11 Z"/><path d="M434.23,68.85 L435.88,68.36 L437.20,67.99 L438.85,67.99 L440.50,67.86 L442.04,67.37 L441.27,67.00 L442.26,66.38 L442.37,65.52 L440.94,65.15 L440.50,64.41 L439.84,63.30 L438.96,62.68 L438.63,61.95 L437.75,61.45 L437.64,60.84 L438.52,59.60 L436.65,59.36 L436.10,58.99 L437.09,58.25 L435.00,58.25 L434.45,59.60 L434.23,60.84 L435.00,62.07 L435.22,62.81 L436.98,62.81 L436.65,63.55 L437.31,64.16 L437.20,64.78 L435.44,64.78 L435.88,65.40 L435.99,66.14 L434.78,66.63 L436.10,66.88 L437.20,67.25 L435.88,67.37 L435.00,68.11 Z"/><path d="M433.90,66.38 L433.68,64.53 L433.90,63.18 L432.47,62.32 L431.15,63.30 L429.50,63.67 L430.05,64.90 L429.17,66.51 L430.05,67.00 L431.70,66.63 L433.46,66.14 Z"/><path d="M416.30,51.59 L414.10,49.74 L415.75,48.63 L420.70,48.88 L424.00,48.63 L425.65,49.99 L424.55,51.09 L421.80,51.83 L419.60,52.33 L417.40,51.83 Z"/><path d="M98.73,145.30 L99.72,149.00 L99.28,151.46 L98.18,154.54 L97.19,158.24 L96.31,161.08 L94.55,161.94 L92.90,161.32 L92.13,157.63 L93.23,155.16 L92.90,152.08 L93.45,150.47 L95.65,149.86 L97.30,147.15 Z"/><path d="M203.67,180.68 L207.63,180.93 L207.30,183.27 L206.20,184.26 L205.10,184.14 L204.22,182.53 Z"/><path d="M234.47,172.92 L236.45,174.64 L237.55,175.50 L238.10,176.74 L240.85,176.98 L240.19,178.59 L238.98,179.82 L237.22,181.79 L236.56,181.42 L237.00,179.82 L235.68,178.83 L236.56,177.35 L236.23,175.50 L234.80,173.90 Z"/><path d="M234.47,180.44 L236.23,181.42 L235.13,183.27 L234.25,184.38 L232.82,185.37 L232.16,187.09 L230.40,187.96 L227.65,187.22 L227.98,185.99 L229.74,184.75 L232.05,183.40 L233.15,181.92 L233.81,180.93 Z"/><path d="M188.49,88.58 L189.70,88.70 L191.35,88.21 L193.11,87.84 L193.22,88.82 L194.98,88.21 L196.52,87.84 L197.18,87.22 L198.28,87.34 L199.38,86.48 L199.16,85.00 L199.60,83.28 L200.37,81.80 L200.15,80.56 L200.04,79.45 L198.83,79.70 L198.39,81.18 L198.17,82.41 L196.85,83.89 L195.53,85.00 L194.87,84.51 L194.10,86.36 L193.33,86.61 L191.35,86.73 L189.70,87.34 L188.60,87.96 Z"/><path d="M198.50,79.45 L199.82,78.96 L200.37,77.97 L202.13,78.71 L203.45,77.48 L204.66,77.11 L204.00,76.25 L202.35,76.00 L200.59,74.40 L200.26,75.88 L199.93,77.23 L198.83,77.11 L198.50,78.10 Z"/><path d="M187.28,89.44 L188.49,88.70 L189.59,89.81 L189.15,91.66 L188.27,92.28 L187.72,91.66 L187.50,90.06 Z"/><path d="M190.25,89.56 L191.35,88.33 L192.56,88.33 L192.67,88.82 L192.12,89.44 L190.80,90.06 Z"/><path d="M200.48,73.78 L200.70,71.32 L200.92,67.62 L200.37,64.78 L201.36,63.55 L202.13,65.77 L202.02,68.85 L203.45,70.08 L201.80,72.55 L201.25,73.04 Z"/><path d="M176.61,102.14 L177.60,99.43 L178.70,99.67 L178.04,102.14 L177.38,103.37 Z"/><path d="M163.96,106.83 L166.05,105.72 L166.60,106.33 L165.50,107.94 L164.07,107.69 Z"/><path d="M177.16,107.69 L178.92,107.69 L179.25,109.54 L178.37,110.90 L178.70,113.24 L181.01,114.96 L179.80,114.47 L178.15,113.48 L177.16,112.87 L176.28,111.39 L176.83,110.28 Z"/><path d="M178.70,121.87 L180.35,120.88 L182.44,118.42 L183.65,120.64 L183.32,122.73 L182.44,123.60 L180.90,122.49 Z"/><path d="M181.12,115.09 L182.77,116.94 L182.00,118.17 L181.23,116.94 Z"/><path d="M178.70,115.95 L180.02,117.18 L179.80,119.40 L178.70,117.55 Z"/><path d="M173.42,120.14 L176.06,116.69 L175.73,117.55 L174.08,120.02 Z"/><path d="M164.40,128.65 L165.06,128.03 L166.60,128.53 L168.80,126.55 L170.45,124.83 L171.55,123.97 L172.65,122.24 L173.75,122.49 L175.62,123.97 L174.30,124.95 L174.08,128.03 L175.40,129.27 L173.75,129.88 L172.87,132.35 L172.65,134.82 L170.56,135.43 L168.80,134.45 L167.15,134.20 L165.72,134.08 L165.50,132.10 L164.40,130.50 Z"/><path d="M149.33,123.60 L151.75,124.09 L153.18,126.18 L155.05,128.03 L156.15,128.65 L158.35,129.88 L158.68,131.73 L159.45,132.97 L161.10,134.45 L160.88,137.65 L159.45,137.65 L157.03,135.43 L155.60,133.58 L154.50,131.73 L153.40,129.88 L153.07,128.28 L151.75,127.05 L150.10,125.20 Z"/><path d="M160.22,138.88 L161.10,137.77 L163.63,138.27 L166.05,138.51 L168.25,139.01 L170.45,139.99 L170.34,141.23 L167.70,140.73 L165.50,140.49 L163.30,139.99 L161.43,139.62 Z"/><path d="M171.00,140.61 L173.20,140.61 L175.40,140.86 L178.70,140.61 L179.80,140.98 L178.70,141.47 L175.40,141.47 L173.20,141.60 L171.22,141.35 Z"/><path d="M180.90,143.08 L182.55,141.60 L184.53,140.86 L183.10,142.09 L181.45,143.20 Z"/><path d="M175.95,137.28 L176.94,137.28 L177.05,134.20 L177.60,133.83 L179.25,136.05 L180.02,136.30 L178.70,134.20 L178.15,132.72 L180.13,131.73 L178.70,131.49 L177.16,131.98 L176.83,129.88 L178.15,129.88 L179.80,129.39 L181.45,129.27 L182.22,128.65 L181.23,129.88 L177.49,128.90 L176.50,129.64 L176.28,131.12 L175.40,133.58 L175.18,134.82 Z"/><path d="M184.75,128.03 L185.85,128.65 L185.30,129.88 L186.18,130.13 L185.30,131.12 L184.75,129.88 Z"/><path d="M185.30,134.20 L188.38,134.45 L188.05,135.19 L185.52,134.94 Z"/><path d="M188.60,132.10 L190.25,130.99 L191.90,131.61 L193.00,134.57 L195.75,132.35 L199.60,133.71 L203.45,135.19 L205.10,137.28 L206.75,137.90 L207.08,140.12 L209.50,143.20 L207.30,142.95 L205.10,140.36 L202.90,139.99 L201.80,141.84 L199.60,141.72 L197.40,140.49 L196.30,140.86 L195.75,139.13 L196.85,138.51 L196.30,136.66 L193.55,136.05 L191.90,135.43 L190.58,135.43 L189.70,133.95 L191.35,133.34 L189.92,133.21 Z"/><path d="M207.52,137.40 L209.50,136.66 L211.15,135.68 L211.92,136.05 L210.60,137.77 L208.40,138.14 Z"/><path d="M132.39,118.54 L133.60,120.02 L134.59,121.87 L133.60,123.10 L132.50,122.98 L132.28,120.64 Z"/><path d="M347.00,103.50 L348.10,102.51 L350.30,101.89 L352.50,102.14 L355.25,103.62 L357.45,104.98 L358.88,105.59 L355.80,105.96 L355.03,104.98 L354.15,103.99 L351.95,103.37 L350.30,103.13 L348.65,103.37 Z"/><path d="M358.66,107.69 L360.42,105.96 L363.50,106.21 L365.26,107.57 L363.50,108.06 L361.85,108.80 L360.42,108.18 L358.66,107.94 Z"/><path d="M354.37,107.81 L355.80,107.69 L356.68,108.31 L355.25,108.55 Z"/><path d="M366.58,107.81 L368.34,107.81 L368.34,108.31 L366.58,108.31 Z"/><path d="M375.27,71.81 L378.90,69.47 L379.45,66.88 L381.65,69.84 L382.53,71.93 L381.54,72.92 L379.45,72.55 L378.35,71.69 Z"/><path d="M299.26,67.86 L302.45,68.48 L304.76,70.82 L303.33,70.58 L301.90,69.71 L300.25,68.85 Z"/><path d="M352.50,39.63 L356.90,41.11 L362.40,43.57 L365.70,44.81 L367.90,47.27 L372.30,48.14 L369.55,50.35 L368.45,52.82 L367.90,53.44 L365.70,53.44 L361.85,52.82 L359.10,50.97 L355.25,50.97 L354.70,49.74 L359.10,48.51 L360.20,47.27 L358.00,46.04 L354.70,44.19 L352.50,43.57 L348.10,44.19 L343.70,42.96 L341.50,41.11 L347.00,39.87 Z"/><path d="M310.15,42.34 L311.80,40.49 L317.30,40.49 L325.00,40.49 L328.30,41.11 L329.40,43.57 L326.10,45.55 L321.70,45.67 L315.10,45.05 L310.70,44.19 Z"/><path d="M303.00,41.97 L301.90,41.11 L303.00,39.26 L307.40,38.64 L310.70,39.87 L308.50,42.34 Z"/><path d="M341.50,31.86 L347.00,28.78 L358.00,28.16 L372.30,28.78 L365.70,31.24 L358.00,33.71 L354.70,36.18 L349.20,36.42 L341.50,36.18 L342.60,34.33 Z"/><path d="M352.50,38.52 L351.40,36.92 L342.60,36.67 L339.30,37.78 L341.50,38.52 Z"/><path d="M56.60,33.71 L61.00,32.11 L64.30,31.61 L68.70,31.37 L74.20,31.61 L72.00,32.72 L67.60,33.71 L64.85,35.56 L62.10,36.18 L59.90,34.94 Z"/><path d="M101.70,42.34 L105.55,40.12 L107.20,38.02 L110.50,36.55 L117.10,35.56 L119.85,36.18 L114.90,37.41 L109.40,39.26 L107.20,41.11 L106.10,43.45 L102.80,43.20 Z"/><path d="M144.60,32.48 L149.00,30.63 L154.50,30.38 L158.90,31.86 L161.10,33.09 L155.60,34.08 L150.10,33.34 Z"/><path d="M96.20,31.24 L105.00,30.26 L112.70,30.63 L108.30,31.86 L99.50,31.86 Z"/><path d="M195.20,37.41 L200.70,36.79 L207.30,37.66 L201.80,39.26 L196.30,38.64 Z"/><path d="M240.85,42.59 L244.15,42.34 L245.80,42.96 L242.50,43.20 Z"/><path d="M58.14,83.89 L59.13,83.40 L61.66,83.28 L61.11,85.25 L58.25,84.26 Z"/><path d="M53.74,82.41 L53.52,80.07 L54.62,79.70 L55.28,80.56 L55.06,82.29 Z"/><path d="M53.96,79.45 L53.96,78.22 L54.84,77.48 L54.95,78.71 Z"/><path d="M70.35,86.98 L73.43,86.98 L73.10,87.34 L71.45,87.22 L70.46,87.34 Z"/><path d="M80.03,87.59 L80.80,86.85 L82.56,86.48 L81.90,87.47 L80.80,87.84 Z"/><path d="M239.53,152.08 L240.96,151.83 L240.85,153.06 L239.64,152.82 Z"/><path d="M224.90,155.41 L228.20,158.00 L227.65,158.00 L225.12,156.15 Z"/><path d="M216.65,139.13 L219.40,140.36 L222.15,142.58 L221.05,142.71 L218.85,140.98 L216.65,139.75 Z"/><path d="M269.23,107.07 L270.00,106.09 L269.23,105.59 L268.68,106.21 Z"/><path d="M120.40,190.67 L122.05,190.92 L121.28,191.78 L120.40,191.53 Z"/><path d="M373.07,193.63 L376.70,193.75 L376.15,194.86 L373.40,194.62 Z"/><path d="M398.70,197.08 L401.12,197.70 L400.35,198.19 L398.70,197.70 Z"/><path d="M146.47,113.85 L146.80,115.70 L146.36,116.94 L146.14,115.09 Z"/><path d="M335.45,41.72 L337.65,39.26 L340.95,39.50 L340.95,41.35 Z"/><path d="M328.85,41.11 L331.60,39.26 L334.35,40.49 L333.25,42.59 Z"/><path d="M332.70,46.04 L336.00,44.81 L334.35,44.44 L331.60,45.18 Z"/><path d="M314.00,37.41 L316.20,36.18 L322.80,36.92 L324.45,38.02 L320.60,38.39 L312.90,38.27 Z"/><path d="M330.50,37.41 L333.25,36.18 L332.15,38.02 Z"/><path d="M334.90,38.02 L338.20,37.41 L337.65,38.39 Z"/><path d="M336.00,33.09 L340.40,30.38 L343.70,31.24 L341.50,33.09 Z"/><path d="M306.30,36.18 L310.70,34.94 L311.80,36.55 Z"/><path d="M344.80,51.59 L350.30,49.74 L351.95,51.59 L349.20,53.81 L345.90,52.45 Z"/><path d="M327.20,34.33 L330.50,33.09 L329.40,34.70 Z"/><path d="M352.50,53.68 L353.60,53.31 L353.05,54.05 Z"/><path d="M348.10,36.42 L354.70,35.31 L352.50,36.79 Z"/><path d="M233.48,65.64 L236.12,64.90 L235.90,65.52 Z"/><path d="M236.23,66.38 L238.87,65.64 L238.65,66.26 Z"/><path d="M238.98,67.00 L241.62,66.26 L241.40,66.88 Z"/><path d="M242.28,67.12 L244.92,66.38 L244.70,67.00 Z"/><path d="M245.58,67.00 L248.22,66.26 L248.00,66.88 Z"/><path d="M248.88,66.51 L251.52,65.77 L251.30,66.38 Z"/><path d="M252.18,65.77 L254.82,65.03 L254.60,65.64 Z"/><path d="M255.48,64.90 L258.12,64.16 L257.90,64.78 Z"/><path d="M258.78,63.92 L261.42,63.18 L261.20,63.79 Z"/><path d="M204.22,76.99 L205.98,76.00 L205.76,76.74 Z"/><path d="M206.42,75.51 L208.18,74.52 L207.96,75.26 Z"/><path d="M208.62,74.28 L210.38,73.29 L210.16,74.03 Z"/><path d="M210.82,72.80 L212.58,71.81 L212.36,72.55 Z"/><path d="M213.02,71.19 L214.78,70.21 L214.56,70.95 Z"/><path d="M214.67,69.59 L216.43,68.60 L216.21,69.34 Z"/><path d="M215.77,68.48 L217.53,67.49 L217.31,68.23 Z"/>
<path d="M42.30,217.67 L44.50,217.67 L54.40,217.06 L64.30,217.06 L74.20,216.44 L80.36,215.08 L86.30,216.07 L94.00,213.60 L102.36,211.63 L108.30,212.49 L118.20,214.47 L122.27,217.06 L124.25,216.07 L130.30,214.47 L138.00,213.11 L144.38,212.49 L156.26,211.01 L168.25,211.63 L184.20,211.01 L200.15,212.49 L210.16,214.47 L220.17,216.07 L228.20,218.04 L232.16,220.02 L227.10,222.36 L229.30,225.07 L242.50,225.19 L264.50,225.19 L278.14,225.07 L289.80,222.98 L299.70,221.99 L304.10,220.02 L314.00,221.62 L323.90,221.00 L332.04,220.02 L343.70,219.89 L355.80,220.02 L359.98,217.06 L366.03,212.99 L371.97,210.03 L378.90,208.06 L373.95,211.01 L371.97,215.08 L373.95,221.00 L367.90,225.07 L380.00,226.06 L399.80,227.04 L413.88,222.98 L427.85,219.03 L437.86,217.06 L442.70,217.55 L442.70,242.70 L42.30,242.70 Z"/>
<path d="M249.10,54.05 L261.20,54.05 L261.20,46.04 L249.10,46.04 Z"/>
<path d="M363.50,71.93 L367.90,68.85 L374.50,68.23 L377.25,67.00 L378.90,67.62 L375.60,71.93 L374.50,73.78 L370.10,74.40 L367.90,73.17 Z"/>
<path d="M54.40,63.92 L59.90,64.53 L68.70,63.30 L70.90,60.22 L75.30,57.14 L77.50,56.52 L73.10,55.29 L72.00,49.12 L66.50,49.12 L62.10,54.05 L64.30,57.75 L61.00,62.07 L55.50,61.45 Z"/>
<path d="M80.80,48.14 L89.60,47.89 L93.45,48.51 L89.60,51.59 L81.90,51.59 Z"/>
<path d="M96.75,92.89 L101.70,95.36 L106.98,97.21 L106.65,100.91 L100.60,100.91 L97.30,95.98 Z"/>
<path d="M299.70,44.19 L303.00,38.64 L309.60,36.18 L325.00,32.48 L339.30,30.01 L358.00,27.91 L372.30,28.78 L363.50,33.09 L354.70,36.79 L352.50,39.50 L341.50,41.11 L336.00,46.66 L319.50,47.89 L299.70,45.42 Z"/>
<path d="M314.22,91.29 L316.20,92.28 L319.50,97.21 L321.15,100.29 L320.05,101.89 L317.30,97.83 L314.55,93.51 Z"/>
<path d="M57.92,74.40 L59.68,74.15 L65.95,79.08 L64.85,81.06 L62.10,79.21 L59.35,76.74 L58.03,75.63 Z"/>
</g>
<path d="M96.75,73.17 L98.40,73.17 L101.15,72.55 L102.80,72.80 L102.80,74.65 L100.93,75.63 L100.60,77.11 L102.47,78.10 L102.80,79.70 L102.58,81.18 L103.68,82.04 L103.35,83.65 L103.90,84.51 L101.15,85.13 L99.50,84.51 L98.40,83.65 L98.18,81.80 L98.84,80.81 L98.40,79.70 L97.30,78.71 L96.75,77.48 L96.20,76.25 L95.98,75.01 Z" fill="#f6c2aa" stroke="none"/>
<path d="M56.60,33.71 L61.00,32.11 L64.30,31.61 L68.70,31.37 L74.20,31.61 L72.00,32.72 L67.60,33.71 L64.85,35.56 L62.10,36.18 L59.90,34.94 Z" fill="#bdbdbd" stroke="none"/>
<path d="M352.50,39.63 L356.90,41.11 L362.40,43.57 L365.70,44.81 L367.90,47.27 L372.30,48.14 L369.55,50.35 L368.45,52.82 L367.90,53.44 L365.70,53.44 L361.85,52.82 L359.10,50.97 L355.25,50.97 L354.70,49.74 L359.10,48.51 L360.20,47.27 L358.00,46.04 L354.70,44.19 L352.50,43.57 L348.10,44.19 L343.70,42.96 L341.50,41.11 L347.00,39.87 Z" fill="#fcece4" stroke="none"/>
<g fill="none" stroke="#1a1a1a" stroke-width="0.45" stroke-linejoin="round">
<path d="M38.34,86.11 L37.57,85.50 L36.36,84.63 L34.71,84.88 L34.82,82.78 L34.05,81.92 L34.71,80.56 L34.82,78.71 L34.27,77.48 L35.70,76.62 L38.12,76.74 L40.32,76.93 L42.52,76.99 L43.18,75.51 L43.18,73.78 L42.08,72.43 L39.55,71.44 L39.33,70.82 L41.20,70.33 L42.74,70.58 L43.07,69.34 L44.72,69.59 L46.15,68.73 L46.26,67.74 L48.02,67.25 L48.90,66.51 L49.67,65.27 L50.77,64.66 L52.20,64.53 L53.85,64.16 L54.07,62.68 L53.41,61.45 L53.74,60.22 L56.05,59.36 L55.83,60.84 L56.49,61.08 L55.50,62.68 L56.60,63.92 L58.80,63.55 L60.45,64.04 L62.65,63.30 L64.85,62.93 L66.39,63.42 L67.71,62.68 L67.71,60.96 L68.26,59.60 L69.36,59.36 L71.34,59.97 L70.35,58.37 L70.35,57.51 L72.55,57.01 L75.30,57.14 L77.39,56.64 L76.18,55.90 L73.65,56.03 L69.80,56.64 L68.15,55.53 L67.93,53.44 L69.25,52.20 L71.45,50.60 L72.44,50.11 L71.45,49.37 L69.25,49.37 L67.93,50.85 L65.95,52.08 L63.97,53.44 L63.42,54.92 L63.75,55.78 L65.18,56.52 L64.52,57.38 L62.76,59.11 L62.43,60.71 L60.45,61.45 L58.58,62.19 L58.36,61.21 L57.59,59.36 L56.82,57.75 L56.05,57.01 L55.50,57.75 L53.30,58.86 L51.65,58.86 L50.66,57.75 L50.00,56.15 L50.00,54.30 L51.32,53.31 L53.85,52.45 L55.50,51.59 L57.04,50.60 L58.25,49.12 L59.90,47.52 L61.55,46.29 L63.20,45.42 L65.40,44.44 L67.60,43.94 L70.90,43.20 L72.88,42.83 L75.30,42.96 L78.05,43.82 L78.60,44.44 L80.80,45.05 L84.10,45.30 L87.40,46.53 L89.60,47.64 L89.82,48.88 L86.85,49.00 L83.00,48.75 L80.80,48.14 L82.45,49.99 L83.00,51.09 L85.20,51.71 L86.30,51.34 L89.05,50.97 L90.70,49.74 L92.35,48.88 L92.90,48.14 L92.68,46.66 L92.13,45.92 L94.00,46.04 L95.10,46.90 L97.85,47.15 L101.70,46.04 L103.35,45.67 L104.45,46.29 L107.20,46.04 L109.40,45.79 L111.05,44.44 L113.80,44.68 L116.00,45.05 L118.20,45.18 L118.75,46.29 L119.85,46.29 L119.30,44.19 L118.20,42.96 L119.85,41.11 L121.39,39.87 L124.25,40.74 L123.70,42.71 L124.25,46.04 L125.35,48.14 L127.00,47.27 L126.45,45.42 L125.68,43.57 L125.35,42.59 L127.55,41.35 L130.85,41.35 L133.05,39.87 L133.60,40.74 L133.05,42.34 L135.80,44.19 L136.35,42.34 L137.45,41.35 L139.65,39.50 L140.20,38.27 L143.50,37.29 L149.00,36.79 L152.30,36.18 L155.60,35.56 L158.90,34.70 L161.65,35.19 L162.75,36.18 L166.60,36.05 L169.35,37.04 L168.80,39.26 L165.50,39.87 L169.35,40.12 L174.30,39.87 L179.80,40.49 L183.10,39.87 L185.85,41.11 L186.95,42.96 L189.15,43.20 L191.90,42.34 L195.20,42.34 L197.95,41.23 L199.60,40.86 L205.10,41.35 L209.50,42.22 L212.25,43.08 L217.20,42.96 L219.95,43.33 L221.38,44.68 L224.90,44.56 L228.75,44.56 L231.50,44.07 L234.80,44.31 L238.65,44.68 L242.50,45.55 L245.80,46.90 L249.10,47.89 L251.30,48.26 L253.83,49.00 L252.40,49.99 L249.87,51.22 L247.23,50.85 L243.60,50.11 L240.85,50.85 L241.40,52.82 L239.20,53.44 L235.90,54.30 L232.60,55.90 L229.30,56.52 L227.10,56.15 L224.90,56.77 L223.80,58.37 L222.70,59.60 L224.13,61.45 L222.70,62.68 L221.05,63.67 L219.07,65.27 L216.87,67.62 L216.10,65.77 L215.88,62.07 L216.98,59.60 L218.85,58.74 L221.05,56.77 L222.70,55.90 L224.35,53.68 L220.50,54.42 L217.75,54.55 L215.55,56.15 L213.90,57.38 L210.60,57.01 L207.30,57.38 L204.00,57.38 L201.80,57.38 L200.15,58.37 L198.50,59.48 L196.30,60.96 L194.65,62.81 L195.75,63.92 L197.95,63.67 L199.60,64.53 L200.04,65.77 L199.05,67.62 L198.83,70.70 L196.85,72.80 L194.65,75.26 L192.45,76.86 L190.80,77.73 L189.15,77.48 L188.05,78.10 L187.17,79.95 L185.30,81.18 L184.75,82.17 L185.85,83.28 L186.84,85.50 L186.73,86.98 L185.30,87.47 L183.65,88.08 L183.43,86.73 L183.98,85.13 L183.43,84.02 L182.22,83.89 L182.00,82.41 L181.23,81.30 L179.25,82.04 L177.82,82.66 L178.26,81.80 L179.03,80.56 L177.60,80.07 L175.95,81.30 L174.30,82.17 L173.86,82.91 L175.18,84.26 L175.95,84.63 L177.38,83.89 L179.36,84.39 L177.60,85.50 L176.06,86.61 L175.73,87.71 L176.94,88.82 L177.60,90.80 L178.59,91.91 L178.15,92.65 L178.70,93.76 L178.15,95.36 L176.94,96.84 L176.06,98.44 L175.18,99.80 L173.86,101.03 L172.10,102.26 L170.12,103.00 L169.35,103.13 L167.70,103.74 L166.05,104.36 L165.72,105.47 L165.17,103.99 L163.85,103.87 L162.75,104.24 L161.76,105.35 L160.88,106.70 L161.10,107.69 L162.20,109.17 L163.63,111.02 L164.40,113.24 L164.73,115.09 L164.40,116.57 L162.86,117.55 L161.87,118.42 L160.55,119.40 L159.78,119.90 L159.78,118.42 L159.34,117.68 L157.80,116.94 L157.58,115.33 L155.49,114.84 L154.94,113.85 L154.39,114.47 L153.62,117.55 L153.95,119.16 L154.83,120.39 L155.16,121.75 L156.15,122.12 L157.03,122.86 L158.02,123.97 L158.35,125.57 L158.24,127.17 L159.23,128.77 L158.35,128.90 L157.25,128.03 L155.93,126.92 L155.05,125.32 L154.83,123.60 L154.50,122.36 L152.85,120.64 L152.63,119.40 L152.85,117.55 L152.96,115.46 L152.30,113.24 L151.97,110.40 L151.42,109.79 L150.32,110.16 L149.33,111.02 L148.23,110.77 L148.56,108.92 L148.12,107.32 L147.35,106.46 L146.58,105.22 L145.70,103.99 L145.48,102.63 L144.16,103.00 L142.95,103.62 L141.85,103.74 L140.20,104.11 L139.98,105.47 L138.22,106.46 L136.90,108.06 L135.03,110.03 L133.82,110.90 L132.72,111.76 L132.83,114.22 L132.28,116.20 L132.28,117.80 L131.40,119.03 L130.52,119.65 L129.75,120.51 L128.76,119.53 L128.10,117.55 L127.33,115.70 L126.56,113.24 L125.35,110.77 L124.80,108.31 L124.58,106.46 L124.58,104.61 L124.14,103.37 L123.92,104.24 L122.60,104.85 L121.50,104.36 L120.40,103.00 L121.50,102.39 L120.07,101.89 L119.52,101.15 L118.53,100.54 L117.87,99.31 L114.90,99.31 L112.15,99.55 L109.95,99.06 L107.75,98.81 L107.20,97.46 L106.32,97.09 L104.45,97.70 L102.80,97.21 L100.93,95.98 L99.83,94.37 L98.73,93.39 L97.85,93.51 L97.19,94.37 L97.96,95.98 L98.95,97.21 L99.61,98.07 L100.38,99.92 L100.82,98.32 L101.26,99.43 L101.26,100.54 L102.80,100.66 L104.45,100.54 L105.55,99.31 L106.21,98.32 L106.54,99.31 L106.54,100.29 L107.75,101.15 L109.18,101.52 L110.28,102.88 L109.73,104.24 L108.85,105.35 L108.08,106.09 L107.97,107.20 L106.76,108.31 L105.44,108.80 L103.90,109.54 L101.92,111.02 L99.50,112.00 L97.85,113.24 L95.65,114.10 L94.00,114.72 L92.35,114.84 L92.02,113.85 L91.58,112.25 L91.36,110.16 L90.48,108.55 L89.38,106.46 L88.06,104.85 L87.51,103.37 L86.85,101.28 L85.64,99.92 L84.76,98.44 L83.66,96.47 L82.78,95.48 L82.89,94.13 L82.23,95.98 L81.35,95.36 L80.36,93.63 L80.03,92.03 L82.12,91.91 L82.89,90.43 L83.33,89.19 L83.99,87.71 L83.99,86.24 L84.32,85.37 L83.55,85.37 L81.90,85.74 L80.25,85.99 L78.16,85.13 L76.73,85.87 L75.30,85.13 L74.53,84.26 L73.65,83.28 L73.98,81.80 L73.32,81.18 L74.75,80.56 L76.40,80.07 L76.62,79.70 L78.60,79.82 L80.80,78.84 L83.00,78.71 L84.65,79.58 L86.63,80.07 L88.83,79.95 L90.26,79.21 L90.26,77.97 L88.50,76.99 L86.63,75.75 L85.20,75.14 L84.76,74.52 L83.55,74.89 L82.45,75.63 L81.35,75.51 L80.36,74.52 L81.46,73.78 L79.70,73.17 L78.38,73.17 L77.28,74.40 L76.40,75.63 L75.96,76.62 L75.19,77.48 L75.19,78.71 L75.74,79.45 L76.40,79.82 L75.30,79.95 L73.87,80.44 L73.10,80.19 L71.78,80.07 L70.57,80.32 L69.80,80.81 L69.36,80.56 L69.58,81.67 L70.02,82.41 L70.90,83.40 L70.02,83.77 L69.80,84.51 L69.47,85.50 L69.03,85.50 L68.37,85.13 L68.26,84.26 L67.82,83.65 L67.71,83.03 L67.27,82.41 L66.61,81.67 L65.84,80.81 L65.84,79.33 L64.96,78.22 L63.75,77.48 L62.10,76.86 L61.22,76.00 L60.45,74.77 L59.46,74.28 L58.14,74.52 L58.03,75.63 L59.35,76.74 L60.45,78.22 L62.10,78.84 L62.32,79.21 L63.42,79.95 L64.85,81.06 L64.19,81.30 L63.20,80.56 L62.76,81.55 L63.31,82.41 L62.65,83.15 L61.77,83.77 L61.88,82.78 L62.10,81.80 L61.33,81.06 L60.56,80.44 L59.90,80.07 L58.80,79.58 L57.92,78.96 L56.71,78.22 L56.05,77.23 L55.50,76.25 L54.18,75.75 L52.86,76.49 L51.65,77.36 L50.00,76.99 L48.90,76.86 L47.91,77.48 L48.02,78.71 L46.92,79.45 L45.60,79.95 L45.05,80.56 L44.17,81.80 L44.72,82.66 L43.95,83.40 L43.62,84.14 L42.52,84.88 L42.08,85.25 L40.65,85.25 L39.55,85.37 Z"/><path d="M434.34,86.11 L433.57,85.50 L432.36,84.63 L430.71,84.88 L430.82,82.78 L430.05,81.92 L430.71,80.56 L430.82,78.71 L430.27,77.48 L431.70,76.62 L434.12,76.74 L436.32,76.93 L438.52,76.99 L439.18,75.51 L439.18,73.78 L438.08,72.43 L435.55,71.44 L435.33,70.82 L437.20,70.33 L438.74,70.58 L439.07,69.34 L440.72,69.59 L442.15,68.73 L442.26,67.74 L444.02,67.25 L444.90,66.51 L445.67,65.27 L446.77,64.66 L448.20,64.53 L449.85,64.16 L450.07,62.68 L449.41,61.45 L449.74,60.22 L452.05,59.36 L451.83,60.84 L452.49,61.08 L451.50,62.68 L452.60,63.92 L454.80,63.55 L456.45,64.04 L458.65,63.30 L460.85,62.93 L462.39,63.42 L463.71,62.68 L463.71,60.96 L464.26,59.60 L465.36,59.36 L467.34,59.97 L466.35,58.37 L466.35,57.51 L468.55,57.01 L471.30,57.14 L473.39,56.64 L472.18,55.90 L469.65,56.03 L465.80,56.64 L464.15,55.53 L463.93,53.44 L465.25,52.20 L467.45,50.60 L468.44,50.11 L467.45,49.37 L465.25,49.37 L463.93,50.85 L461.95,52.08 L459.97,53.44 L459.42,54.92 L459.75,55.78 L461.18,56.52 L460.52,57.38 L458.76,59.11 L458.43,60.71 L456.45,61.45 L454.58,62.19 L454.36,61.21 L453.59,59.36 L452.82,57.75 L452.05,57.01 L451.50,57.75 L449.30,58.86 L447.65,58.86 L446.66,57.75 L446.00,56.15 L446.00,54.30 L447.32,53.31 L449.85,52.45 L451.50,51.59 L453.04,50.60 L454.25,49.12 L455.90,47.52 L457.55,46.29 L459.20,45.42 L461.40,44.44 L463.60,43.94 L466.90,43.20 L468.88,42.83 L471.30,42.96 L474.05,43.82 L474.60,44.44 L476.80,45.05 L480.10,45.30 L483.40,46.53 L485.60,47.64 L485.82,48.88 L482.85,49.00 L479.00,48.75 L476.80,48.14 L478.45,49.99 L479.00,51.09 L481.20,51.71 L482.30,51.34 L485.05,50.97 L486.70,49.74 L488.35,48.88 L488.90,48.14 L488.68,46.66 L488.13,45.92 L490.00,46.04 L491.10,46.90 L493.85,47.15 L497.70,46.04 L499.35,45.67 L500.45,46.29 L503.20,46.04 L505.40,45.79 L507.05,44.44 L509.80,44.68 L512.00,45.05 L514.20,45.18 L514.75,46.29 L515.85,46.29 L515.30,44.19 L514.20,42.96 L515.85,41.11 L517.39,39.87 L520.25,40.74 L519.70,42.71 L520.25,46.04 L521.35,48.14 L523.00,47.27 L522.45,45.42 L521.68,43.57 L521.35,42.59 L523.55,41.35 L526.85,41.35 L529.05,39.87 L529.60,40.74 L529.05,42.34 L531.80,44.19 L532.35,42.34 L533.45,41.35 L535.65,39.50 L536.20,38.27 L539.50,37.29 L545.00,36.79 L548.30,36.18 L551.60,35.56 L554.90,34.70 L557.65,35.19 L558.75,36.18 L562.60,36.05 L565.35,37.04 L564.80,39.26 L561.50,39.87 L565.35,40.12 L570.30,39.87 L575.80,40.49 L579.10,39.87 L581.85,41.11 L582.95,42.96 L585.15,43.20 L587.90,42.34 L591.20,42.34 L593.95,41.23 L595.60,40.86 L601.10,41.35 L605.50,42.22 L608.25,43.08 L613.20,42.96 L615.95,43.33 L617.38,44.68 L620.90,44.56 L624.75,44.56 L627.50,44.07 L630.80,44.31 L634.65,44.68 L638.50,45.55 L641.80,46.90 L645.10,47.89 L647.30,48.26 L649.83,49.00 L648.40,49.99 L645.87,51.22 L643.23,50.85 L639.60,50.11 L636.85,50.85 L637.40,52.82 L635.20,53.44 L631.90,54.30 L628.60,55.90 L625.30,56.52 L623.10,56.15 L620.90,56.77 L619.80,58.37 L618.70,59.60 L620.13,61.45 L618.70,62.68 L617.05,63.67 L615.07,65.27 L612.87,67.62 L612.10,65.77 L611.88,62.07 L612.98,59.60 L614.85,58.74 L617.05,56.77 L618.70,55.90 L620.35,53.68 L616.50,54.42 L613.75,54.55 L611.55,56.15 L609.90,57.38 L606.60,57.01 L603.30,57.38 L600.00,57.38 L597.80,57.38 L596.15,58.37 L594.50,59.48 L592.30,60.96 L590.65,62.81 L591.75,63.92 L593.95,63.67 L595.60,64.53 L596.04,65.77 L595.05,67.62 L594.83,70.70 L592.85,72.80 L590.65,75.26 L588.45,76.86 L586.80,77.73 L585.15,77.48 L584.05,78.10 L583.17,79.95 L581.30,81.18 L580.75,82.17 L581.85,83.28 L582.84,85.50 L582.73,86.98 L581.30,87.47 L579.65,88.08 L579.43,86.73 L579.98,85.13 L579.43,84.02 L578.22,83.89 L578.00,82.41 L577.23,81.30 L575.25,82.04 L573.82,82.66 L574.26,81.80 L575.03,80.56 L573.60,80.07 L571.95,81.30 L570.30,82.17 L569.86,82.91 L571.18,84.26 L571.95,84.63 L573.38,83.89 L575.36,84.39 L573.60,85.50 L572.06,86.61 L571.73,87.71 L572.94,88.82 L573.60,90.80 L574.59,91.91 L574.15,92.65 L574.70,93.76 L574.15,95.36 L572.94,96.84 L572.06,98.44 L571.18,99.80 L569.86,101.03 L568.10,102.26 L566.12,103.00 L565.35,103.13 L563.70,103.74 L562.05,104.36 L561.72,105.47 L561.17,103.99 L559.85,103.87 L558.75,104.24 L557.76,105.35 L556.88,106.70 L557.10,107.69 L558.20,109.17 L559.63,111.02 L560.40,113.24 L560.73,115.09 L560.40,116.57 L558.86,117.55 L557.87,118.42 L556.55,119.40 L555.78,119.90 L555.78,118.42 L555.34,117.68 L553.80,116.94 L553.58,115.33 L551.49,114.84 L550.94,113.85 L550.39,114.47 L549.62,117.55 L549.95,119.16 L550.83,120.39 L551.16,121.75 L552.15,122.12 L553.03,122.86 L554.02,123.97 L554.35,125.57 L554.24,127.17 L555.23,128.77 L554.35,128.90 L553.25,128.03 L551.93,126.92 L551.05,125.32 L550.83,123.60 L550.50,122.36 L548.85,120.64 L548.63,119.40 L548.85,117.55 L548.96,115.46 L548.30,113.24 L547.97,110.40 L547.42,109.79 L546.32,110.16 L545.33,111.02 L544.23,110.77 L544.56,108.92 L544.12,107.32 L543.35,106.46 L542.58,105.22 L541.70,103.99 L541.48,102.63 L540.16,103.00 L538.95,103.62 L537.85,103.74 L536.20,104.11 L535.98,105.47 L534.22,106.46 L532.90,108.06 L531.03,110.03 L529.82,110.90 L528.72,111.76 L528.83,114.22 L528.28,116.20 L528.28,117.80 L527.40,119.03 L526.52,119.65 L525.75,120.51 L524.76,119.53 L524.10,117.55 L523.33,115.70 L522.56,113.24 L521.35,110.77 L520.80,108.31 L520.58,106.46 L520.58,104.61 L520.14,103.37 L519.92,104.24 L518.60,104.85 L517.50,104.36 L516.40,103.00 L517.50,102.39 L516.07,101.89 L515.52,101.15 L514.53,100.54 L513.87,99.31 L510.90,99.31 L508.15,99.55 L505.95,99.06 L503.75,98.81 L503.20,97.46 L502.32,97.09 L500.45,97.70 L498.80,97.21 L496.93,95.98 L495.83,94.37 L494.73,93.39 L493.85,93.51 L493.19,94.37 L493.96,95.98 L494.95,97.21 L495.61,98.07 L496.38,99.92 L496.82,98.32 L497.26,99.43 L497.26,100.54 L498.80,100.66 L500.45,100.54 L501.55,99.31 L502.21,98.32 L502.54,99.31 L502.54,100.29 L503.75,101.15 L505.18,101.52 L506.28,102.88 L505.73,104.24 L504.85,105.35 L504.08,106.09 L503.97,107.20 L502.76,108.31 L501.44,108.80 L499.90,109.54 L497.92,111.02 L495.50,112.00 L493.85,113.24 L491.65,114.10 L490.00,114.72 L488.35,114.84 L488.02,113.85 L487.58,112.25 L487.36,110.16 L486.48,108.55 L485.38,106.46 L484.06,104.85 L483.51,103.37 L482.85,101.28 L481.64,99.92 L480.76,98.44 L479.66,96.47 L478.78,95.48 L478.89,94.13 L478.23,95.98 L477.35,95.36 L476.36,93.63 L476.03,92.03 L478.12,91.91 L478.89,90.43 L479.33,89.19 L479.99,87.71 L479.99,86.24 L480.32,85.37 L479.55,85.37 L477.90,85.74 L476.25,85.99 L474.16,85.13 L472.73,85.87 L471.30,85.13 L470.53,84.26 L469.65,83.28 L469.98,81.80 L469.32,81.18 L470.75,80.56 L472.40,80.07 L472.62,79.70 L474.60,79.82 L476.80,78.84 L479.00,78.71 L480.65,79.58 L482.63,80.07 L484.83,79.95 L486.26,79.21 L486.26,77.97 L484.50,76.99 L482.63,75.75 L481.20,75.14 L480.76,74.52 L479.55,74.89 L478.45,75.63 L477.35,75.51 L476.36,74.52 L477.46,73.78 L475.70,73.17 L474.38,73.17 L473.28,74.40 L472.40,75.63 L471.96,76.62 L471.19,77.48 L471.19,78.71 L471.74,79.45 L472.40,79.82 L471.30,79.95 L469.87,80.44 L469.10,80.19 L467.78,80.07 L466.57,80.32 L465.80,80.81 L465.36,80.56 L465.58,81.67 L466.02,82.41 L466.90,83.40 L466.02,83.77 L465.80,84.51 L465.47,85.50 L465.03,85.50 L464.37,85.13 L464.26,84.26 L463.82,83.65 L463.71,83.03 L463.27,82.41 L462.61,81.67 L461.84,80.81 L461.84,79.33 L460.96,78.22 L459.75,77.48 L458.10,76.86 L457.22,76.00 L456.45,74.77 L455.46,74.28 L454.14,74.52 L454.03,75.63 L455.35,76.74 L456.45,78.22 L458.10,78.84 L458.32,79.21 L459.42,79.95 L460.85,81.06 L460.19,81.30 L459.20,80.56 L458.76,81.55 L459.31,82.41 L458.65,83.15 L457.77,83.77 L457.88,82.78 L458.10,81.80 L457.33,81.06 L456.56,80.44 L455.90,80.07 L454.80,79.58 L453.92,78.96 L452.71,78.22 L452.05,77.23 L451.50,76.25 L450.18,75.75 L448.86,76.49 L447.65,77.36 L446.00,76.99 L444.90,76.86 L443.91,77.48 L444.02,78.71 L442.92,79.45 L441.60,79.95 L441.05,80.56 L440.17,81.80 L440.72,82.66 L439.95,83.40 L439.62,84.14 L438.52,84.88 L438.08,85.25 L436.65,85.25 L435.55,85.37 Z"/><path d="M38.01,86.36 L36.91,88.58 L35.15,89.44 L33.94,93.02 L31.85,95.73 L30.20,96.59 L28.55,98.32 L27.12,101.15 L25.80,104.61 L26.57,106.46 L26.90,108.31 L26.35,110.77 L25.25,112.37 L26.02,113.85 L26.13,115.09 L27.45,116.32 L28.33,117.55 L29.87,119.03 L30.75,121.25 L32.40,122.12 L34.05,123.72 L36.25,125.07 L39.00,124.21 L42.30,124.58 L44.50,123.60 L46.15,122.86 L48.24,122.61 L50.00,123.35 L51.10,125.20 L52.75,124.95 L53.85,124.83 L54.95,125.81 L55.28,127.42 L54.84,129.88 L54.40,131.73 L55.50,133.95 L57.15,136.05 L57.92,137.90 L58.80,140.98 L59.35,144.06 L58.25,147.15 L57.48,150.23 L57.48,152.69 L58.80,155.78 L60.45,158.74 L61.00,163.17 L62.65,165.76 L63.75,168.11 L64.63,170.57 L64.74,172.67 L65.95,173.29 L66.50,173.41 L68.70,172.55 L72.00,172.42 L73.65,172.05 L75.85,170.57 L77.50,168.97 L78.60,167.24 L80.14,165.64 L80.69,162.56 L83.00,160.71 L83.55,158.24 L83.33,156.39 L82.78,154.91 L84.65,153.68 L87.40,151.46 L89.05,149.00 L89.05,145.91 L88.50,143.20 L87.84,140.98 L87.62,138.88 L87.95,136.42 L88.72,134.20 L90.15,132.72 L91.80,130.50 L94.00,128.28 L96.20,126.18 L97.85,123.72 L99.28,120.64 L100.38,117.55 L100.93,115.95 L98.95,116.57 L96.20,117.18 L93.45,117.68 L92.13,116.20 L91.58,114.96 L90.15,113.48 L88.50,111.39 L87.40,109.29 L86.85,107.94 L85.53,106.46 L85.09,103.37 L83.66,101.40 L82.78,99.06 L81.68,97.21 L80.36,93.63 L80.03,92.03 L78.60,91.66 L76.40,92.40 L74.20,91.78 L72.00,91.41 L69.80,90.43 L68.15,89.93 L66.61,90.80 L65.95,92.89 L64.30,92.52 L61.55,91.66 L61.22,90.55 L59.02,89.93 L56.82,89.56 L56.05,88.58 L56.60,86.73 L56.05,85.50 L56.60,84.76 L55.50,84.51 L53.85,85.00 L51.10,84.88 L47.80,85.13 L44.50,86.24 L42.30,87.22 L40.10,87.10 L38.67,86.24 Z"/><path d="M434.01,86.36 L432.91,88.58 L431.15,89.44 L429.94,93.02 L427.85,95.73 L426.20,96.59 L424.55,98.32 L423.12,101.15 L421.80,104.61 L422.57,106.46 L422.90,108.31 L422.35,110.77 L421.25,112.37 L422.02,113.85 L422.13,115.09 L423.45,116.32 L424.33,117.55 L425.87,119.03 L426.75,121.25 L428.40,122.12 L430.05,123.72 L432.25,125.07 L435.00,124.21 L438.30,124.58 L440.50,123.60 L442.15,122.86 L444.24,122.61 L446.00,123.35 L447.10,125.20 L448.75,124.95 L449.85,124.83 L450.95,125.81 L451.28,127.42 L450.84,129.88 L450.40,131.73 L451.50,133.95 L453.15,136.05 L453.92,137.90 L454.80,140.98 L455.35,144.06 L454.25,147.15 L453.48,150.23 L453.48,152.69 L454.80,155.78 L456.45,158.74 L457.00,163.17 L458.65,165.76 L459.75,168.11 L460.63,170.57 L460.74,172.67 L461.95,173.29 L462.50,173.41 L464.70,172.55 L468.00,172.42 L469.65,172.05 L471.85,170.57 L473.50,168.97 L474.60,167.24 L476.14,165.64 L476.69,162.56 L479.00,160.71 L479.55,158.24 L479.33,156.39 L478.78,154.91 L480.65,153.68 L483.40,151.46 L485.05,149.00 L485.05,145.91 L484.50,143.20 L483.84,140.98 L483.62,138.88 L483.95,136.42 L484.72,134.20 L486.15,132.72 L487.80,130.50 L490.00,128.28 L492.20,126.18 L493.85,123.72 L495.28,120.64 L496.38,117.55 L496.93,115.95 L494.95,116.57 L492.20,117.18 L489.45,117.68 L488.13,116.20 L487.58,114.96 L486.15,113.48 L484.50,111.39 L483.40,109.29 L482.85,107.94 L481.53,106.46 L481.09,103.37 L479.66,101.40 L478.78,99.06 L477.68,97.21 L476.36,93.63 L476.03,92.03 L474.60,91.66 L472.40,92.40 L470.20,91.78 L468.00,91.41 L465.80,90.43 L464.15,89.93 L462.61,90.80 L461.95,92.89 L460.30,92.52 L457.55,91.66 L457.22,90.55 L455.02,89.93 L452.82,89.56 L452.05,88.58 L452.60,86.73 L452.05,85.50 L452.60,84.76 L451.50,84.51 L449.85,85.00 L447.10,84.88 L443.80,85.13 L440.50,86.24 L438.30,87.22 L436.10,87.10 L434.67,86.24 Z"/><path d="M255.70,49.74 L260.10,47.89 L257.90,45.67 L261.20,44.19 L268.35,42.59 L273.30,43.20 L281.00,44.19 L285.40,44.68 L292.00,45.42 L298.60,44.19 L304.10,44.81 L308.50,45.42 L314.00,46.04 L321.70,46.66 L326.10,46.66 L332.70,46.90 L336.00,46.04 L337.10,42.34 L341.50,45.42 L345.90,46.04 L350.30,44.81 L349.20,49.12 L345.90,48.51 L343.70,50.97 L340.40,52.82 L337.10,55.29 L337.10,57.75 L338.75,60.22 L343.70,61.45 L350.30,62.68 L352.50,66.38 L353.60,63.30 L355.80,61.45 L354.70,57.75 L355.25,54.05 L360.20,54.05 L363.50,55.29 L364.05,57.75 L367.90,58.37 L369.55,56.15 L372.30,59.60 L374.50,62.68 L378.90,65.77 L377.25,67.00 L374.50,68.60 L369.55,68.60 L367.35,69.47 L363.50,71.93 L369.88,70.33 L369.00,71.93 L369.55,73.41 L372.85,74.15 L374.50,73.78 L373.40,74.77 L370.65,75.51 L368.12,76.86 L367.90,75.26 L366.80,75.51 L363.50,76.74 L362.84,77.97 L363.50,78.96 L361.85,79.45 L359.10,80.44 L359.10,81.80 L358.00,82.66 L356.90,84.88 L357.45,87.10 L355.80,87.84 L353.60,89.56 L351.40,91.66 L351.95,95.36 L352.50,97.83 L352.06,99.43 L351.18,99.31 L350.30,97.46 L349.53,95.98 L349.20,94.50 L347.55,93.51 L345.90,93.02 L343.70,92.89 L342.05,93.26 L342.27,94.50 L340.95,94.37 L339.30,94.00 L337.10,93.88 L336.00,94.74 L333.80,96.22 L333.25,98.44 L332.92,100.91 L333.25,103.37 L333.58,105.22 L334.57,106.70 L336.00,107.57 L336.55,108.06 L338.75,107.57 L340.40,107.32 L341.06,105.22 L341.17,104.61 L343.70,103.99 L344.80,103.99 L344.36,105.84 L343.70,107.69 L343.37,110.16 L343.15,111.02 L344.25,111.02 L347.00,110.77 L348.87,112.00 L348.65,114.47 L348.43,116.94 L349.75,118.66 L351.40,119.65 L353.05,118.66 L354.70,119.03 L355.36,119.77 L356.90,118.79 L357.45,117.55 L359.10,116.69 L360.75,115.95 L361.85,115.21 L362.40,116.94 L363.50,116.32 L365.15,117.55 L367.90,117.43 L370.10,117.43 L372.30,117.31 L373.40,118.17 L374.50,120.02 L376.70,121.87 L377.80,123.10 L380.00,123.23 L382.20,123.72 L383.85,125.20 L384.40,126.80 L385.50,128.28 L385.50,130.50 L387.15,131.73 L388.80,131.49 L391.55,133.58 L394.30,133.95 L396.50,133.95 L398.15,135.06 L399.80,136.54 L401.78,137.28 L402.22,139.75 L402.00,141.60 L400.90,143.45 L399.25,145.30 L398.15,146.53 L397.60,149.00 L397.60,152.08 L396.50,155.16 L395.40,157.63 L394.30,158.86 L392.10,158.86 L389.90,160.09 L387.70,161.94 L387.04,164.41 L386.60,165.76 L384.95,168.11 L383.30,170.20 L381.65,172.05 L380.00,173.41 L378.35,173.41 L376.26,172.67 L377.25,174.89 L377.80,176.74 L376.70,177.97 L372.30,178.59 L372.08,180.44 L369.55,181.05 L370.32,182.29 L369.00,183.52 L368.45,185.99 L366.25,187.83 L367.90,189.44 L365.70,192.15 L364.60,193.38 L365.15,194.99 L363.50,195.85 L362.40,197.08 L360.75,196.47 L358.55,194.62 L357.45,192.15 L358.00,189.07 L359.10,185.99 L359.65,183.52 L359.65,181.67 L359.43,178.59 L359.65,176.12 L360.75,173.66 L361.74,171.19 L361.85,167.49 L362.40,163.79 L362.95,159.48 L363.28,155.16 L362.95,153.06 L361.30,151.46 L358.00,149.36 L356.57,147.15 L355.25,144.68 L353.60,140.36 L352.50,138.51 L351.18,137.28 L351.18,135.80 L352.50,134.20 L351.95,131.73 L352.50,129.88 L353.05,128.65 L353.82,128.03 L355.25,126.18 L355.47,123.72 L355.25,121.87 L354.70,121.25 L353.60,119.53 L352.50,121.25 L351.40,120.64 L349.75,120.39 L348.10,118.79 L346.23,118.17 L346.23,116.94 L344.25,114.47 L342.05,113.85 L339.85,113.24 L338.20,111.39 L336.55,110.53 L334.90,111.14 L332.70,110.53 L330.50,109.54 L328.85,108.55 L326.65,107.94 L325.00,106.46 L324.45,105.22 L324.67,103.99 L323.90,102.14 L321.70,99.67 L320.05,97.83 L318.40,95.98 L316.75,94.13 L315.65,91.91 L314.22,91.29 L314.55,93.51 L316.20,95.36 L317.85,97.83 L318.95,100.29 L320.05,101.89 L319.17,101.52 L317.30,99.92 L316.97,97.83 L315.10,96.35 L314.55,95.36 L313.23,93.14 L312.02,91.04 L311.47,89.81 L310.15,88.58 L307.84,87.84 L306.41,85.37 L305.75,83.89 L304.32,81.80 L303.77,79.95 L303.55,77.48 L304.10,73.78 L303.33,70.82 L305.20,70.95 L304.65,70.08 L302.45,68.85 L300.25,67.86 L299.70,66.38 L297.50,63.92 L296.40,62.68 L294.20,60.84 L292.00,58.99 L289.80,58.37 L287.05,56.89 L283.20,56.52 L279.90,55.53 L277.15,56.52 L275.50,57.14 L273.52,57.51 L273.30,55.90 L272.20,57.75 L271.10,59.60 L268.90,59.85 L266.15,61.45 L263.40,62.32 L261.20,63.05 L259.55,63.30 L262.30,61.70 L265.60,59.60 L267.25,58.37 L264.50,58.00 L262.30,56.52 L259.55,55.53 L258.45,53.44 L259.55,52.57 L263.40,50.97 L261.20,50.85 L258.45,50.97 Z"/><path d="M374.50,29.15 L385.50,28.78 L396.50,27.67 L407.50,27.42 L418.50,28.78 L427.30,30.01 L420.70,32.48 L419.60,35.56 L418.50,38.02 L416.30,40.49 L416.30,42.96 L413.00,44.81 L407.50,46.29 L402.00,49.12 L398.70,49.74 L396.50,50.97 L395.40,52.82 L393.20,55.90 L392.10,56.52 L389.90,55.53 L387.15,54.67 L385.50,52.82 L383.85,50.97 L382.20,48.51 L381.65,46.66 L384.40,45.42 L380.55,43.57 L383.30,42.34 L380.00,41.11 L377.80,38.64 L374.50,36.79 L367.90,36.79 L362.40,35.56 L360.20,33.96 L365.70,32.48 L370.10,30.63 Z"/><path d="M169.35,157.63 L169.90,162.56 L169.35,163.17 L170.45,165.64 L171.00,168.11 L171.77,169.96 L171.00,171.81 L171.00,172.79 L172.65,173.66 L174.30,173.66 L176.50,172.42 L178.70,172.42 L180.90,171.19 L183.10,170.33 L186.40,169.46 L189.15,169.34 L191.35,170.20 L193.00,171.81 L193.88,173.41 L194.65,171.81 L195.75,171.19 L196.08,173.04 L196.85,174.27 L197.95,174.89 L198.50,176.74 L200.15,177.85 L202.35,178.34 L203.89,177.23 L205.43,178.71 L207.30,177.11 L209.39,176.74 L209.72,174.27 L210.82,172.30 L212.25,169.96 L212.80,168.72 L213.46,165.76 L212.91,163.79 L212.80,161.57 L211.15,160.09 L210.38,158.24 L208.95,157.63 L208.07,155.78 L205.65,153.93 L205.10,151.46 L204.44,149.00 L203.45,148.01 L202.35,145.91 L201.25,143.69 L200.48,145.91 L200.26,148.38 L200.15,150.84 L199.05,152.20 L197.95,151.83 L195.75,150.23 L194.10,149.00 L193.55,148.38 L194.65,146.53 L194.98,145.54 L193.55,145.30 L190.80,144.68 L189.70,144.43 L188.05,145.91 L186.95,148.38 L185.85,148.87 L184.75,147.76 L183.10,147.76 L181.45,149.61 L180.35,151.46 L179.03,152.69 L178.15,153.93 L175.40,155.16 L172.87,155.90 L170.45,157.01 Z"/><path d="M38.23,68.85 L39.88,68.36 L41.20,67.99 L42.85,67.99 L44.50,67.86 L46.04,67.37 L45.27,67.00 L46.26,66.38 L46.37,65.52 L44.94,65.15 L44.50,64.41 L43.84,63.30 L42.96,62.68 L42.63,61.95 L41.75,61.45 L41.64,60.84 L42.52,59.60 L40.65,59.36 L40.10,58.99 L41.09,58.25 L39.00,58.25 L38.45,59.60 L38.23,60.84 L39.00,62.07 L39.22,62.81 L40.98,62.81 L40.65,63.55 L41.31,64.16 L41.20,64.78 L39.44,64.78 L39.88,65.40 L39.99,66.14 L38.78,66.63 L40.10,66.88 L41.20,67.25 L39.88,67.37 L39.00,68.11 Z"/><path d="M434.23,68.85 L435.88,68.36 L437.20,67.99 L438.85,67.99 L440.50,67.86 L442.04,67.37 L441.27,67.00 L442.26,66.38 L442.37,65.52 L440.94,65.15 L440.50,64.41 L439.84,63.30 L438.96,62.68 L438.63,61.95 L437.75,61.45 L437.64,60.84 L438.52,59.60 L436.65,59.36 L436.10,58.99 L437.09,58.25 L435.00,58.25 L434.45,59.60 L434.23,60.84 L435.00,62.07 L435.22,62.81 L436.98,62.81 L436.65,63.55 L437.31,64.16 L437.20,64.78 L435.44,64.78 L435.88,65.40 L435.99,66.14 L434.78,66.63 L436.10,66.88 L437.20,67.25 L435.88,67.37 L435.00,68.11 Z"/><path d="M433.90,66.38 L433.68,64.53 L433.90,63.18 L432.47,62.32 L431.15,63.30 L429.50,63.67 L430.05,64.90 L429.17,66.51 L430.05,67.00 L431.70,66.63 L433.46,66.14 Z"/><path d="M416.30,51.59 L414.10,49.74 L415.75,48.63 L420.70,48.88 L424.00,48.63 L425.65,49.99 L424.55,51.09 L421.80,51.83 L419.60,52.33 L417.40,51.83 Z"/><path d="M98.73,145.30 L99.72,149.00 L99.28,151.46 L98.18,154.54 L97.19,158.24 L96.31,161.08 L94.55,161.94 L92.90,161.32 L92.13,157.63 L93.23,155.16 L92.90,152.08 L93.45,150.47 L95.65,149.86 L97.30,147.15 Z"/><path d="M203.67,180.68 L207.63,180.93 L207.30,183.27 L206.20,184.26 L205.10,184.14 L204.22,182.53 Z"/><path d="M234.47,172.92 L236.45,174.64 L237.55,175.50 L238.10,176.74 L240.85,176.98 L240.19,178.59 L238.98,179.82 L237.22,181.79 L236.56,181.42 L237.00,179.82 L235.68,178.83 L236.56,177.35 L236.23,175.50 L234.80,173.90 Z"/><path d="M234.47,180.44 L236.23,181.42 L235.13,183.27 L234.25,184.38 L232.82,185.37 L232.16,187.09 L230.40,187.96 L227.65,187.22 L227.98,185.99 L229.74,184.75 L232.05,183.40 L233.15,181.92 L233.81,180.93 Z"/><path d="M188.49,88.58 L189.70,88.70 L191.35,88.21 L193.11,87.84 L193.22,88.82 L194.98,88.21 L196.52,87.84 L197.18,87.22 L198.28,87.34 L199.38,86.48 L199.16,85.00 L199.60,83.28 L200.37,81.80 L200.15,80.56 L200.04,79.45 L198.83,79.70 L198.39,81.18 L198.17,82.41 L196.85,83.89 L195.53,85.00 L194.87,84.51 L194.10,86.36 L193.33,86.61 L191.35,86.73 L189.70,87.34 L188.60,87.96 Z"/><path d="M198.50,79.45 L199.82,78.96 L200.37,77.97 L202.13,78.71 L203.45,77.48 L204.66,77.11 L204.00,76.25 L202.35,76.00 L200.59,74.40 L200.26,75.88 L199.93,77.23 L198.83,77.11 L198.50,78.10 Z"/><path d="M187.28,89.44 L188.49,88.70 L189.59,89.81 L189.15,91.66 L188.27,92.28 L187.72,91.66 L187.50,90.06 Z"/><path d="M190.25,89.56 L191.35,88.33 L192.56,88.33 L192.67,88.82 L192.12,89.44 L190.80,90.06 Z"/><path d="M200.48,73.78 L200.70,71.32 L200.92,67.62 L200.37,64.78 L201.36,63.55 L202.13,65.77 L202.02,68.85 L203.45,70.08 L201.80,72.55 L201.25,73.04 Z"/><path d="M176.61,102.14 L177.60,99.43 L178.70,99.67 L178.04,102.14 L177.38,103.37 Z"/><path d="M163.96,106.83 L166.05,105.72 L166.60,106.33 L165.50,107.94 L164.07,107.69 Z"/><path d="M177.16,107.69 L178.92,107.69 L179.25,109.54 L178.37,110.90 L178.70,113.24 L181.01,114.96 L179.80,114.47 L178.15,113.48 L177.16,112.87 L176.28,111.39 L176.83,110.28 Z"/><path d="M178.70,121.87 L180.35,120.88 L182.44,118.42 L183.65,120.64 L183.32,122.73 L182.44,123.60 L180.90,122.49 Z"/><path d="M181.12,115.09 L182.77,116.94 L182.00,118.17 L181.23,116.94 Z"/><path d="M178.70,115.95 L180.02,117.18 L179.80,119.40 L178.70,117.55 Z"/><path d="M173.42,120.14 L176.06,116.69 L175.73,117.55 L174.08,120.02 Z"/><path d="M164.40,128.65 L165.06,128.03 L166.60,128.53 L168.80,126.55 L170.45,124.83 L171.55,123.97 L172.65,122.24 L173.75,122.49 L175.62,123.97 L174.30,124.95 L174.08,128.03 L175.40,129.27 L173.75,129.88 L172.87,132.35 L172.65,134.82 L170.56,135.43 L168.80,134.45 L167.15,134.20 L165.72,134.08 L165.50,132.10 L164.40,130.50 Z"/><path d="M149.33,123.60 L151.75,124.09 L153.18,126.18 L155.05,128.03 L156.15,128.65 L158.35,129.88 L158.68,131.73 L159.45,132.97 L161.10,134.45 L160.88,137.65 L159.45,137.65 L157.03,135.43 L155.60,133.58 L154.50,131.73 L153.40,129.88 L153.07,128.28 L151.75,127.05 L150.10,125.20 Z"/><path d="M160.22,138.88 L161.10,137.77 L163.63,138.27 L166.05,138.51 L168.25,139.01 L170.45,139.99 L170.34,141.23 L167.70,140.73 L165.50,140.49 L163.30,139.99 L161.43,139.62 Z"/><path d="M171.00,140.61 L173.20,140.61 L175.40,140.86 L178.70,140.61 L179.80,140.98 L178.70,141.47 L175.40,141.47 L173.20,141.60 L171.22,141.35 Z"/><path d="M180.90,143.08 L182.55,141.60 L184.53,140.86 L183.10,142.09 L181.45,143.20 Z"/><path d="M175.95,137.28 L176.94,137.28 L177.05,134.20 L177.60,133.83 L179.25,136.05 L180.02,136.30 L178.70,134.20 L178.15,132.72 L180.13,131.73 L178.70,131.49 L177.16,131.98 L176.83,129.88 L178.15,129.88 L179.80,129.39 L181.45,129.27 L182.22,128.65 L181.23,129.88 L177.49,128.90 L176.50,129.64 L176.28,131.12 L175.40,133.58 L175.18,134.82 Z"/><path d="M184.75,128.03 L185.85,128.65 L185.30,129.88 L186.18,130.13 L185.30,131.12 L184.75,129.88 Z"/><path d="M185.30,134.20 L188.38,134.45 L188.05,135.19 L185.52,134.94 Z"/><path d="M188.60,132.10 L190.25,130.99 L191.90,131.61 L193.00,134.57 L195.75,132.35 L199.60,133.71 L203.45,135.19 L205.10,137.28 L206.75,137.90 L207.08,140.12 L209.50,143.20 L207.30,142.95 L205.10,140.36 L202.90,139.99 L201.80,141.84 L199.60,141.72 L197.40,140.49 L196.30,140.86 L195.75,139.13 L196.85,138.51 L196.30,136.66 L193.55,136.05 L191.90,135.43 L190.58,135.43 L189.70,133.95 L191.35,133.34 L189.92,133.21 Z"/><path d="M207.52,137.40 L209.50,136.66 L211.15,135.68 L211.92,136.05 L210.60,137.77 L208.40,138.14 Z"/><path d="M132.39,118.54 L133.60,120.02 L134.59,121.87 L133.60,123.10 L132.50,122.98 L132.28,120.64 Z"/><path d="M347.00,103.50 L348.10,102.51 L350.30,101.89 L352.50,102.14 L355.25,103.62 L357.45,104.98 L358.88,105.59 L355.80,105.96 L355.03,104.98 L354.15,103.99 L351.95,103.37 L350.30,103.13 L348.65,103.37 Z"/><path d="M358.66,107.69 L360.42,105.96 L363.50,106.21 L365.26,107.57 L363.50,108.06 L361.85,108.80 L360.42,108.18 L358.66,107.94 Z"/><path d="M354.37,107.81 L355.80,107.69 L356.68,108.31 L355.25,108.55 Z"/><path d="M366.58,107.81 L368.34,107.81 L368.34,108.31 L366.58,108.31 Z"/><path d="M375.27,71.81 L378.90,69.47 L379.45,66.88 L381.65,69.84 L382.53,71.93 L381.54,72.92 L379.45,72.55 L378.35,71.69 Z"/><path d="M299.26,67.86 L302.45,68.48 L304.76,70.82 L303.33,70.58 L301.90,69.71 L300.25,68.85 Z"/><path d="M352.50,39.63 L356.90,41.11 L362.40,43.57 L365.70,44.81 L367.90,47.27 L372.30,48.14 L369.55,50.35 L368.45,52.82 L367.90,53.44 L365.70,53.44 L361.85,52.82 L359.10,50.97 L355.25,50.97 L354.70,49.74 L359.10,48.51 L360.20,47.27 L358.00,46.04 L354.70,44.19 L352.50,43.57 L348.10,44.19 L343.70,42.96 L341.50,41.11 L347.00,39.87 Z"/><path d="M310.15,42.34 L311.80,40.49 L317.30,40.49 L325.00,40.49 L328.30,41.11 L329.40,43.57 L326.10,45.55 L321.70,45.67 L315.10,45.05 L310.70,44.19 Z"/><path d="M303.00,41.97 L301.90,41.11 L303.00,39.26 L307.40,38.64 L310.70,39.87 L308.50,42.34 Z"/><path d="M341.50,31.86 L347.00,28.78 L358.00,28.16 L372.30,28.78 L365.70,31.24 L358.00,33.71 L354.70,36.18 L349.20,36.42 L341.50,36.18 L342.60,34.33 Z"/><path d="M352.50,38.52 L351.40,36.92 L342.60,36.67 L339.30,37.78 L341.50,38.52 Z"/><path d="M56.60,33.71 L61.00,32.11 L64.30,31.61 L68.70,31.37 L74.20,31.61 L72.00,32.72 L67.60,33.71 L64.85,35.56 L62.10,36.18 L59.90,34.94 Z"/><path d="M101.70,42.34 L105.55,40.12 L107.20,38.02 L110.50,36.55 L117.10,35.56 L119.85,36.18 L114.90,37.41 L109.40,39.26 L107.20,41.11 L106.10,43.45 L102.80,43.20 Z"/><path d="M144.60,32.48 L149.00,30.63 L154.50,30.38 L158.90,31.86 L161.10,33.09 L155.60,34.08 L150.10,33.34 Z"/><path d="M96.20,31.24 L105.00,30.26 L112.70,30.63 L108.30,31.86 L99.50,31.86 Z"/><path d="M195.20,37.41 L200.70,36.79 L207.30,37.66 L201.80,39.26 L196.30,38.64 Z"/><path d="M240.85,42.59 L244.15,42.34 L245.80,42.96 L242.50,43.20 Z"/><path d="M58.14,83.89 L59.13,83.40 L61.66,83.28 L61.11,85.25 L58.25,84.26 Z"/><path d="M53.74,82.41 L53.52,80.07 L54.62,79.70 L55.28,80.56 L55.06,82.29 Z"/><path d="M53.96,79.45 L53.96,78.22 L54.84,77.48 L54.95,78.71 Z"/><path d="M70.35,86.98 L73.43,86.98 L73.10,87.34 L71.45,87.22 L70.46,87.34 Z"/><path d="M80.03,87.59 L80.80,86.85 L82.56,86.48 L81.90,87.47 L80.80,87.84 Z"/><path d="M239.53,152.08 L240.96,151.83 L240.85,153.06 L239.64,152.82 Z"/><path d="M224.90,155.41 L228.20,158.00 L227.65,158.00 L225.12,156.15 Z"/><path d="M216.65,139.13 L219.40,140.36 L222.15,142.58 L221.05,142.71 L218.85,140.98 L216.65,139.75 Z"/><path d="M269.23,107.07 L270.00,106.09 L269.23,105.59 L268.68,106.21 Z"/><path d="M120.40,190.67 L122.05,190.92 L121.28,191.78 L120.40,191.53 Z"/><path d="M373.07,193.63 L376.70,193.75 L376.15,194.86 L373.40,194.62 Z"/><path d="M398.70,197.08 L401.12,197.70 L400.35,198.19 L398.70,197.70 Z"/><path d="M146.47,113.85 L146.80,115.70 L146.36,116.94 L146.14,115.09 Z"/><path d="M335.45,41.72 L337.65,39.26 L340.95,39.50 L340.95,41.35 Z"/><path d="M328.85,41.11 L331.60,39.26 L334.35,40.49 L333.25,42.59 Z"/><path d="M332.70,46.04 L336.00,44.81 L334.35,44.44 L331.60,45.18 Z"/><path d="M314.00,37.41 L316.20,36.18 L322.80,36.92 L324.45,38.02 L320.60,38.39 L312.90,38.27 Z"/><path d="M330.50,37.41 L333.25,36.18 L332.15,38.02 Z"/><path d="M334.90,38.02 L338.20,37.41 L337.65,38.39 Z"/><path d="M336.00,33.09 L340.40,30.38 L343.70,31.24 L341.50,33.09 Z"/><path d="M306.30,36.18 L310.70,34.94 L311.80,36.55 Z"/><path d="M344.80,51.59 L350.30,49.74 L351.95,51.59 L349.20,53.81 L345.90,52.45 Z"/><path d="M327.20,34.33 L330.50,33.09 L329.40,34.70 Z"/><path d="M352.50,53.68 L353.60,53.31 L353.05,54.05 Z"/><path d="M348.10,36.42 L354.70,35.31 L352.50,36.79 Z"/><path d="M233.48,65.64 L236.12,64.90 L235.90,65.52 Z"/><path d="M236.23,66.38 L238.87,65.64 L238.65,66.26 Z"/><path d="M238.98,67.00 L241.62,66.26 L241.40,66.88 Z"/><path d="M242.28,67.12 L244.92,66.38 L244.70,67.00 Z"/><path d="M245.58,67.00 L248.22,66.26 L248.00,66.88 Z"/><path d="M248.88,66.51 L251.52,65.77 L251.30,66.38 Z"/><path d="M252.18,65.77 L254.82,65.03 L254.60,65.64 Z"/><path d="M255.48,64.90 L258.12,64.16 L257.90,64.78 Z"/><path d="M258.78,63.92 L261.42,63.18 L261.20,63.79 Z"/><path d="M204.22,76.99 L205.98,76.00 L205.76,76.74 Z"/><path d="M206.42,75.51 L208.18,74.52 L207.96,75.26 Z"/><path d="M208.62,74.28 L210.38,73.29 L210.16,74.03 Z"/><path d="M210.82,72.80 L212.58,71.81 L212.36,72.55 Z"/><path d="M213.02,71.19 L214.78,70.21 L214.56,70.95 Z"/><path d="M214.67,69.59 L216.43,68.60 L216.21,69.34 Z"/><path d="M215.77,68.48 L217.53,67.49 L217.31,68.23 Z"/>
<path d="M42.30,217.67 L44.50,217.67 L54.40,217.06 L64.30,217.06 L74.20,216.44 L80.36,215.08 L86.30,216.07 L94.00,213.60 L102.36,211.63 L108.30,212.49 L118.20,214.47 L122.27,217.06 L124.25,216.07 L130.30,214.47 L138.00,213.11 L144.38,212.49 L156.26,211.01 L168.25,211.63 L184.20,211.01 L200.15,212.49 L210.16,214.47 L220.17,216.07 L228.20,218.04 L232.16,220.02 L223.80,224.08 L223.14,226.06 L220.17,228.03 L224.13,231.11 L234.14,233.09 L244.15,234.07 L255.70,234.07 L264.50,231.61 L270.00,229.76 L276.16,230.00 L278.14,225.07 L289.80,222.98 L299.70,221.99 L304.10,220.02 L314.00,221.62 L323.90,221.00 L332.04,220.02 L343.70,219.89 L355.80,220.02 L359.98,217.06 L366.03,212.99 L371.97,210.03 L378.90,208.06 L373.95,211.01 L371.97,215.08 L373.95,221.00 L367.90,225.07 L380.00,226.06 L399.80,227.04 L413.88,222.98 L427.85,219.03 L437.86,217.06 L442.70,217.55 M257.90,227.91 L262.30,227.66 L264.50,228.52 L260.10,228.89 Z"/>
<path d="M96.75,73.17 L98.40,73.17 L101.15,72.55 L102.80,72.80 L102.80,74.65 L100.93,75.63 L100.60,77.11 L102.47,78.10 L102.80,79.70 L102.58,81.18 L103.68,82.04 L103.35,83.65 L103.90,84.51 L101.15,85.13 L99.50,84.51 L98.40,83.65 L98.18,81.80 L98.84,80.81 L98.40,79.70 L97.30,78.71 L96.75,77.48 L96.20,76.25 L95.98,75.01 Z"/><path d="M108.85,73.41 L111.60,73.17 L112.15,75.01 L110.50,76.25 L108.85,75.63 Z"/>
<path d="M339.19,72.92 L342.60,71.32 L345.90,70.33 L347.55,72.18 L347.00,73.17 L344.25,73.17 L340.95,73.04 Z"/><path d="M343.92,78.71 L344.25,75.01 L346.45,74.03 L346.45,75.63 L345.35,78.10 Z"/><path d="M347.55,73.78 L350.30,74.40 L352.28,75.26 L350.74,77.23 L349.75,76.25 L348.65,74.65 Z"/><path d="M348.76,79.08 L351.40,78.34 L353.71,77.60 L350.85,79.21 Z"/><path d="M352.72,77.11 L356.68,76.00 L356.57,77.11 Z"/><path d="M333.80,68.36 L334.35,66.14 L332.15,64.29 L331.38,64.90 L333.25,67.00 Z"/><path d="M311.80,55.29 L316.20,54.30 L318.95,53.07 L315.10,53.68 Z"/><path d="M303.00,50.35 L307.40,48.14 L310.70,48.75 L308.50,50.35 Z"/><path d="M79.48,131.73 L81.35,130.13 L81.90,131.12 L81.68,133.46 L79.70,133.83 L79.15,132.72 Z"/><path d="M76.51,134.57 L76.95,137.90 L78.27,141.23 L78.82,140.98 L77.50,137.28 L76.84,134.57 Z"/><path d="M81.90,142.21 L82.45,145.30 L83.33,148.13 L83.00,144.68 L82.23,142.34 Z"/><path d="M59.35,114.72 L60.78,113.48 L60.45,114.96 Z"/><path d="M158.68,66.88 L160.55,66.63 L163.30,64.78 L165.17,61.95 L164.73,61.70 L162.20,64.16 L159.45,66.14 Z"/><path d="M125.35,73.17 L127.55,73.29 L131.40,73.17 L131.62,73.78 L128.10,74.03 L125.90,75.01 Z"/><path d="M77.50,56.15 L80.47,55.41 L80.58,54.67 L78.05,54.92 Z"/><path d="M82.45,55.29 L84.65,54.67 L84.10,52.94 L82.78,53.68 Z"/>

</g>
</g>
<line x1="44.5" y1="19.6" x2="44.5" y2="241.3" stroke="#8a8a8a" stroke-width="0.8"/>
<line x1="44.1" y1="240.9" x2="440.5" y2="240.9" stroke="#8a8a8a" stroke-width="0.8"/>
<text x="45.00" y="257.2" class="tk" text-anchor="middle">0</text><line x1="44.50" x2="44.50" y1="240.9" y2="236.6" stroke="#6a6a6a" stroke-width="0.8"/><text x="100.00" y="257.2" class="tk" text-anchor="middle">50</text><line x1="99.50" x2="99.50" y1="240.9" y2="236.6" stroke="#6a6a6a" stroke-width="0.8"/><text x="155.00" y="257.2" class="tk" text-anchor="middle">100</text><line x1="154.50" x2="154.50" y1="240.9" y2="236.6" stroke="#6a6a6a" stroke-width="0.8"/><text x="210.00" y="257.2" class="tk" text-anchor="middle">150</text><line x1="209.50" x2="209.50" y1="240.9" y2="236.6" stroke="#6a6a6a" stroke-width="0.8"/><text x="265.00" y="257.2" class="tk" text-anchor="middle">200</text><line x1="264.50" x2="264.50" y1="240.9" y2="236.6" stroke="#6a6a6a" stroke-width="0.8"/><text x="320.00" y="257.2" class="tk" text-anchor="middle">250</text><line x1="319.50" x2="319.50" y1="240.9" y2="236.6" stroke="#6a6a6a" stroke-width="0.8"/><text x="375.00" y="257.2" class="tk" text-anchor="middle">300</text><line x1="374.50" x2="374.50" y1="240.9" y2="236.6" stroke="#6a6a6a" stroke-width="0.8"/><text x="430.00" y="257.2" class="tk" text-anchor="middle">350</text><line x1="429.50" x2="429.50" y1="240.9" y2="236.6" stroke="#6a6a6a" stroke-width="0.8"/>
<text x="40.4" y="234.04" class="tk" text-anchor="end">-80</text><line x1="44.5" x2="48.8" y1="229.14" y2="229.14" stroke="#6a6a6a" stroke-width="0.8"/><text x="40.4" y="209.38" class="tk" text-anchor="end">-60</text><line x1="44.5" x2="48.8" y1="204.48" y2="204.48" stroke="#6a6a6a" stroke-width="0.8"/><text x="40.4" y="184.72" class="tk" text-anchor="end">-40</text><line x1="44.5" x2="48.8" y1="179.82" y2="179.82" stroke="#6a6a6a" stroke-width="0.8"/><text x="40.4" y="160.06" class="tk" text-anchor="end">-20</text><line x1="44.5" x2="48.8" y1="155.16" y2="155.16" stroke="#6a6a6a" stroke-width="0.8"/><text x="40.4" y="135.40" class="tk" text-anchor="end">0</text><line x1="44.5" x2="48.8" y1="130.50" y2="130.50" stroke="#6a6a6a" stroke-width="0.8"/><text x="40.4" y="110.74" class="tk" text-anchor="end">20</text><line x1="44.5" x2="48.8" y1="105.84" y2="105.84" stroke="#6a6a6a" stroke-width="0.8"/><text x="40.4" y="86.08" class="tk" text-anchor="end">40</text><line x1="44.5" x2="48.8" y1="81.18" y2="81.18" stroke="#6a6a6a" stroke-width="0.8"/><text x="40.4" y="61.42" class="tk" text-anchor="end">60</text><line x1="44.5" x2="48.8" y1="56.52" y2="56.52" stroke="#6a6a6a" stroke-width="0.8"/><text x="40.4" y="36.76" class="tk" text-anchor="end">80</text><line x1="44.5" x2="48.8" y1="31.86" y2="31.86" stroke="#6a6a6a" stroke-width="0.8"/>
<text x="239" y="14.6" class="ttl" text-anchor="middle">SLR by Geothermal Heating (mm/yr)</text>
<text x="243" y="273.6" class="lab" text-anchor="middle">Longitude (deg)</text>
<text transform="translate(16.9,130.1) rotate(-90)" class="ylab" text-anchor="middle">Latitude (deg)</text>
<rect x="447.00" y="19.90" width="12.00" height="6.98" fill="#720421"/><rect x="447.00" y="26.58" width="12.00" height="6.98" fill="#890b24"/><rect x="447.00" y="33.27" width="12.00" height="6.98" fill="#a01228"/><rect x="447.00" y="39.95" width="12.00" height="6.98" fill="#b41c2d"/><rect x="447.00" y="46.64" width="12.00" height="6.98" fill="#bf3237"/><rect x="447.00" y="53.32" width="12.00" height="6.98" fill="#ca4842"/><rect x="447.00" y="60.01" width="12.00" height="6.98" fill="#d55e4c"/><rect x="447.00" y="66.69" width="12.00" height="6.98" fill="#de735b"/><rect x="447.00" y="73.38" width="12.00" height="6.98" fill="#e7886c"/><rect x="447.00" y="80.06" width="12.00" height="6.98" fill="#f09d7c"/><rect x="447.00" y="86.75" width="12.00" height="6.98" fill="#f6af8f"/><rect x="447.00" y="93.43" width="12.00" height="6.98" fill="#f8bfa3"/><rect x="447.00" y="100.12" width="12.00" height="6.98" fill="#fbd0b8"/><rect x="447.00" y="106.80" width="12.00" height="6.98" fill="#fcdecb"/><rect x="447.00" y="113.49" width="12.00" height="6.98" fill="#fbe6da"/><rect x="447.00" y="120.17" width="12.00" height="6.98" fill="#f9efe8"/><rect x="447.00" y="126.86" width="12.00" height="6.98" fill="#fdfdfd"/><rect x="447.00" y="133.54" width="12.00" height="6.98" fill="#ebf2f5"/><rect x="447.00" y="140.23" width="12.00" height="6.98" fill="#e0ecf3"/><rect x="447.00" y="146.91" width="12.00" height="6.98" fill="#d4e7f1"/><rect x="447.00" y="153.60" width="12.00" height="6.98" fill="#c4deec"/><rect x="447.00" y="160.28" width="12.00" height="6.98" fill="#b1d5e7"/><rect x="447.00" y="166.97" width="12.00" height="6.98" fill="#9dcbe1"/><rect x="447.00" y="173.65" width="12.00" height="6.98" fill="#88bfdb"/><rect x="447.00" y="180.34" width="12.00" height="6.98" fill="#70b0d3"/><rect x="447.00" y="187.02" width="12.00" height="6.98" fill="#59a1ca"/><rect x="447.00" y="193.71" width="12.00" height="6.98" fill="#4292c2"/><rect x="447.00" y="200.39" width="12.00" height="6.98" fill="#3884bb"/><rect x="447.00" y="207.08" width="12.00" height="6.98" fill="#2d76b4"/><rect x="447.00" y="213.76" width="12.00" height="6.98" fill="#2369ad"/><rect x="447.00" y="220.45" width="12.00" height="6.98" fill="#1a599a"/><rect x="447.00" y="227.13" width="12.00" height="6.98" fill="#124983"/><rect x="447.00" y="233.82" width="12.00" height="6.98" fill="#09386c"/>
<rect x="447.0" y="19.9" width="12.0" height="220.6" fill="none" stroke="#8a8a8a" stroke-width="0.6"/>
<text x="462.4" y="24.50" class="cb">0.01</text><text x="462.4" y="79.65" class="cb">0.005</text><line x1="457" x2="459" y1="75.05" y2="75.05" stroke="#262626" stroke-width="0.6"/><text x="462.4" y="134.80" class="cb">0</text><line x1="457" x2="459" y1="130.20" y2="130.20" stroke="#262626" stroke-width="0.6"/><text x="462.4" y="189.95" class="cb">-0.005</text><line x1="457" x2="459" y1="185.35" y2="185.35" stroke="#262626" stroke-width="0.6"/><text x="462.4" y="245.10" class="cb">-0.01</text>
</svg>
</body></html>
